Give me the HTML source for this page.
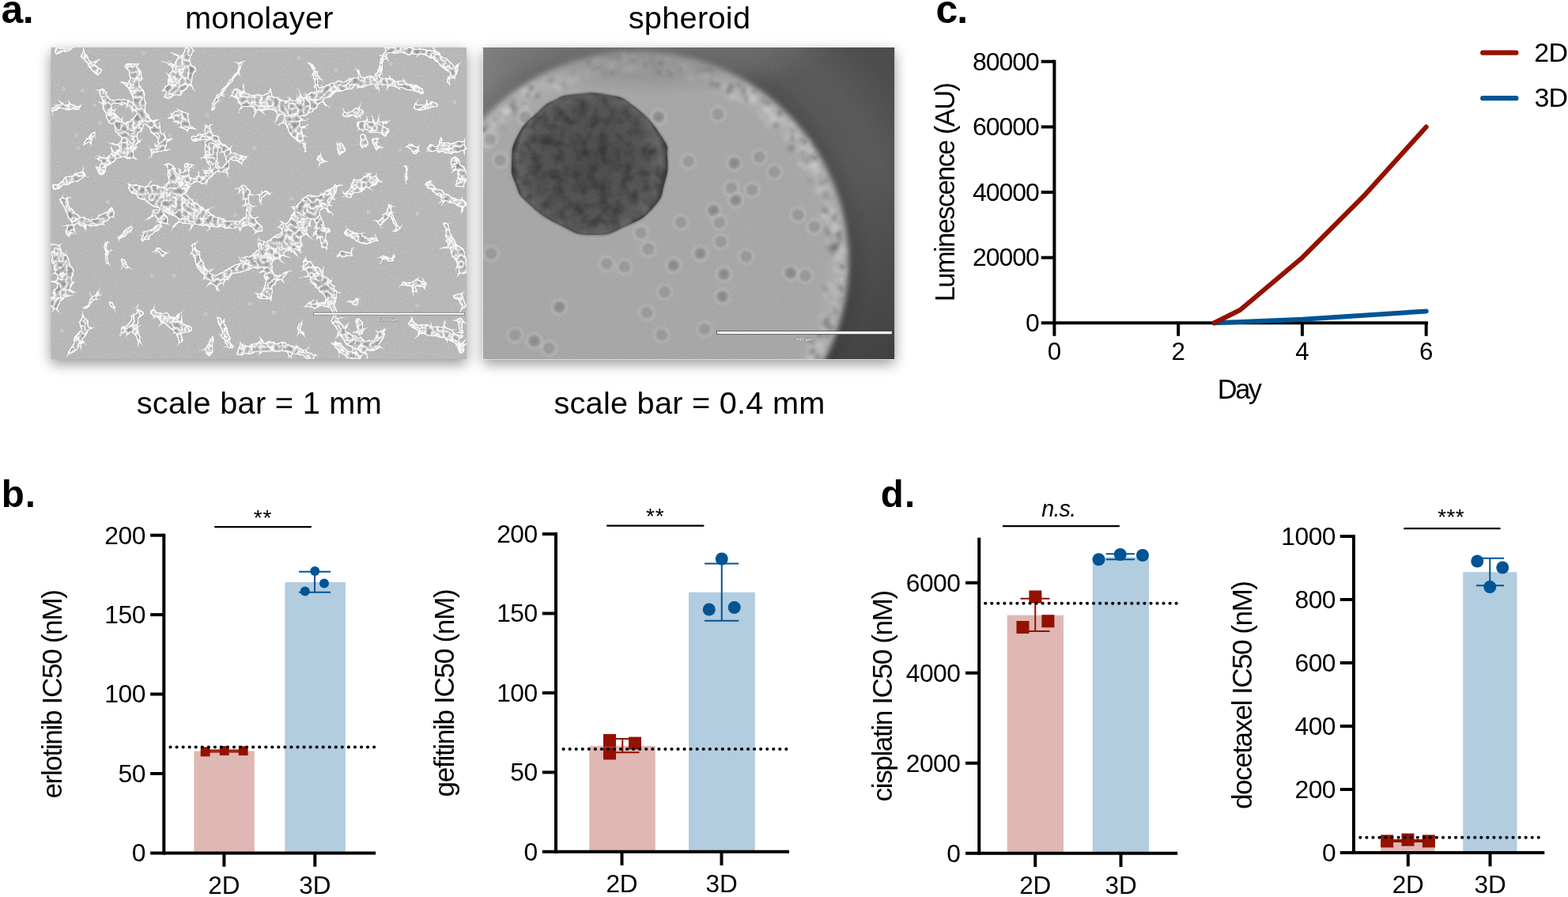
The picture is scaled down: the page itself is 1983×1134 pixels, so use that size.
<!DOCTYPE html>
<html lang="en">
<head>
<meta charset="utf-8">
<title>Figure: monolayer vs spheroid culture</title>
<style>
html,body{margin:0;padding:0;background:#fff;}
body{width:1983px;height:1134px;overflow:hidden;font-family:"Liberation Sans",sans-serif;}
svg{display:block;}
svg text{font-family:"Liberation Sans",sans-serif;fill:#000;}
</style>
</head>
<body>
<svg width="1983" height="1134" viewBox="0 0 1983 1134" role="img" aria-label="Monolayer versus spheroid culture: micrographs, growth curve and IC50 bar charts">
<defs>
<filter id="shadow" x="-15%" y="-15%" width="130%" height="135%">
<feGaussianBlur in="SourceAlpha" stdDeviation="8.5"/>
<feOffset dx="0" dy="6"/>
<feComponentTransfer><feFuncA type="linear" slope="0.42"/></feComponentTransfer>
</filter>
<clipPath id="cs"><rect x="611.0" y="60.0" width="520.2" height="394.0"/></clipPath>
<radialGradient id="gOut" gradientUnits="userSpaceOnUse" cx="806.7" cy="331.3" r="460">
<stop offset="0.575" stop-color="#4c4c4c"/>
<stop offset="0.64" stop-color="#585858"/>
<stop offset="0.72" stop-color="#5a5a5a"/>
<stop offset="0.84" stop-color="#4e4e4e"/>
<stop offset="1" stop-color="#484848"/>
</radialGradient>
<radialGradient id="gFog" gradientUnits="userSpaceOnUse" cx="0" cy="0" r="1" gradientTransform="translate(830 58) scale(230 62)">
<stop offset="0" stop-color="#7a7a7a" stop-opacity="0.6"/>
<stop offset="0.6" stop-color="#7a7a7a" stop-opacity="0.4"/>
<stop offset="1" stop-color="#7a7a7a" stop-opacity="0"/>
</radialGradient>
<linearGradient id="gTop" gradientUnits="userSpaceOnUse" x1="611.0" y1="40" x2="1053.17" y2="230">
<stop offset="0" stop-color="#fff" stop-opacity="0.25"/>
<stop offset="0.2" stop-color="#fff" stop-opacity="0.12"/>
<stop offset="0.62" stop-color="#fff" stop-opacity="0.05"/>
<stop offset="0.8" stop-color="#fff" stop-opacity="0"/>
</linearGradient>
<linearGradient id="gBot" gradientUnits="userSpaceOnUse" x1="1000" y1="300" x2="1131" y2="454">
<stop offset="0" stop-color="#000" stop-opacity="0"/>
<stop offset="1" stop-color="#000" stop-opacity="0.28"/>
</linearGradient>
<radialGradient id="gWell" gradientUnits="userSpaceOnUse" cx="806.7" cy="331.3" r="266.5">
<stop offset="0" stop-color="#a7a7a7"/>
<stop offset="0.8" stop-color="#a6a6a6"/>
<stop offset="0.9" stop-color="#a8a8a8"/>
<stop offset="0.955" stop-color="#b2b2b2"/>
<stop offset="1" stop-color="#aeaeae"/>
</radialGradient>
<linearGradient id="gWellL" gradientUnits="userSpaceOnUse" x1="611.0" y1="454" x2="811.0" y2="200">
<stop offset="0" stop-color="#fff" stop-opacity="0.04"/>
<stop offset="1" stop-color="#000" stop-opacity="0.05"/>
</linearGradient>
<radialGradient id="gSph" gradientUnits="userSpaceOnUse" cx="745" cy="207" r="98">
<stop offset="0" stop-color="#4e4e4e"/>
<stop offset="0.75" stop-color="#555555"/>
<stop offset="0.93" stop-color="#666666"/>
<stop offset="1" stop-color="#4a4a4a"/>
</radialGradient>
<filter id="b1"><feGaussianBlur stdDeviation="1.2"/></filter>
<filter id="b15"><feGaussianBlur stdDeviation="1.6"/></filter>
<filter id="b2"><feGaussianBlur stdDeviation="2.5"/></filter>
<filter id="b3"><feGaussianBlur stdDeviation="3.5"/></filter>
<filter id="sphTex" x="0" y="0" width="100%" height="100%">
<feTurbulence type="fractalNoise" baseFrequency="0.07" numOctaves="2" seed="4" result="n"/>
<feColorMatrix in="n" type="matrix" values="0 0 0 0 0  0 0 0 0 0  0 0 0 0 0  1.1 0 0 0 -0.42" result="a"/>
<feFlood flood-color="#000" result="f"/>
<feComposite in="f" in2="a" operator="in" result="dark"/>
<feComposite in="dark" in2="SourceAlpha" operator="in" result="dk"/>
<feMerge><feMergeNode in="SourceGraphic"/><feMergeNode in="dk"/></feMerge>
</filter>
<filter id="sgrain" x="0" y="0" width="100%" height="100%" color-interpolation-filters="sRGB">
<feTurbulence type="fractalNoise" baseFrequency="0.65" numOctaves="2" seed="9" result="n"/>
<feColorMatrix in="n" type="matrix" values="1 0 0 0 0  1 0 0 0 0  1 0 0 0 0  0 0 0 0 1" result="ng"/>
<feComposite in="SourceGraphic" in2="ng" operator="arithmetic" k1="0" k2="1" k3="0.07" k4="-0.035"/>
</filter>
<clipPath id="cm"><rect x="64.4" y="60.0" width="525.7" height="394.0"/></clipPath>
<filter id="cellf" filterUnits="userSpaceOnUse" x="54.400000000000006" y="50.0" width="545.7" height="414.0" color-interpolation-filters="sRGB">
<feTurbulence type="fractalNoise" baseFrequency="0.09" numOctaves="2" seed="3" result="t1"/>
<feDisplacementMap in="SourceGraphic" in2="t1" scale="8" xChannelSelector="R" yChannelSelector="G" result="d"/>
<feGaussianBlur in="d" stdDeviation="0.9" result="db"/>
<feComponentTransfer in="db" result="ds"><feFuncA type="linear" slope="6" intercept="-2.5"/></feComponentTransfer>
<feMorphology in="ds" operator="erode" radius="1.2" result="er0"/>
<feGaussianBlur in="er0" stdDeviation="0.6" result="er"/>
<feTurbulence type="turbulence" baseFrequency="0.13" numOctaves="2" seed="8" result="t2"/>
<feComponentTransfer in="t2" result="tex0">
<feFuncR type="table" tableValues="1 0.95 0.84 0.76 0.7 0.65 0.6 0.58 0.58 0.58 0.58"/>
<feFuncG type="table" tableValues="1 0.95 0.84 0.76 0.7 0.65 0.6 0.58 0.58 0.58 0.58"/>
<feFuncB type="table" tableValues="1 0.95 0.84 0.76 0.7 0.65 0.6 0.58 0.58 0.58 0.58"/>
<feFuncA type="linear" slope="0" intercept="1"/>
</feComponentTransfer>
<feColorMatrix in="tex0" type="matrix" values="1 0 0 0 0  1 0 0 0 0  1 0 0 0 0  0 0 0 0 1" result="tex"/>
<feComposite in="tex" in2="er" operator="in" result="inner"/>
<feMerge result="un"><feMergeNode in="ds"/><feMergeNode in="d"/></feMerge>
<feFlood flood-color="#fcfcfc"/>
<feComposite in2="un" operator="in" result="white"/>
<feMerge><feMergeNode in="white"/><feMergeNode in="inner"/></feMerge>
<feGaussianBlur stdDeviation="0.65"/>
</filter>
<filter id="mgrain" x="0" y="0" width="100%" height="100%" color-interpolation-filters="sRGB">
<feTurbulence type="fractalNoise" baseFrequency="0.45" numOctaves="2" seed="5" result="n"/>
<feColorMatrix in="n" type="matrix" values="1 0 0 0 0  1 0 0 0 0  1 0 0 0 0  0 0 0 0 1" result="ng"/>
<feComposite in="SourceGraphic" in2="ng" operator="arithmetic" k1="0" k2="1" k3="0.075" k4="-0.0375"/>
</filter>
</defs>
<rect x="611.0" y="60.0" width="520.2" height="394.0" fill="#000" filter="url(#shadow)"/>
<rect x="610.4" y="59.4" width="521.4000000000001" height="395.2" fill="#f4f4f4"/>
<g clip-path="url(#cs)"><g filter="url(#sgrain)">
<rect x="611.0" y="60.0" width="520.2" height="394.0" fill="url(#gOut)"/>
<rect x="611.0" y="60.0" width="520.2" height="394.0" fill="url(#gTop)"/>
<rect x="611.0" y="60.0" width="520.2" height="394.0" fill="url(#gBot)"/>
<circle cx="806.7" cy="331.3" r="266.5" fill="url(#gWell)" filter="url(#b3)"/>
<g filter="url(#b2)">
<circle cx="826.1" cy="82.3" r="4.0" fill="#666" opacity="0.53"/>
<circle cx="945.7" cy="114.4" r="4.6" fill="#d6d6d6" opacity="0.36"/>
<circle cx="1019.6" cy="181.0" r="5.7" fill="#d6d6d6" opacity="0.32"/>
<circle cx="967.5" cy="129.3" r="2.0" fill="#666" opacity="0.33"/>
<circle cx="609.5" cy="167.5" r="2.1" fill="#666" opacity="0.50"/>
<circle cx="1056.7" cy="313.4" r="3.4" fill="#666" opacity="0.60"/>
<circle cx="831.2" cy="76.8" r="5.7" fill="#d6d6d6" opacity="0.37"/>
<circle cx="1022.4" cy="195.4" r="2.5" fill="#666" opacity="0.33"/>
<circle cx="1044.5" cy="244.7" r="3.9" fill="#666" opacity="0.73"/>
<circle cx="1067.8" cy="317.2" r="4.0" fill="#d6d6d6" opacity="0.27"/>
<circle cx="1036.7" cy="437.1" r="3.7" fill="#d6d6d6" opacity="0.35"/>
<circle cx="662.7" cy="115.2" r="4.2" fill="#d6d6d6" opacity="0.47"/>
<circle cx="1057.3" cy="270.8" r="3.2" fill="#666" opacity="0.39"/>
<circle cx="1036.9" cy="213.1" r="3.4" fill="#666" opacity="0.49"/>
<circle cx="624.1" cy="152.2" r="5.6" fill="#d6d6d6" opacity="0.31"/>
<circle cx="1062.9" cy="352.6" r="4.4" fill="#d6d6d6" opacity="0.32"/>
<circle cx="624.1" cy="151.7" r="3.7" fill="#666" opacity="0.43"/>
<circle cx="941.3" cy="113.1" r="3.3" fill="#666" opacity="0.50"/>
<circle cx="1042.5" cy="418.4" r="4.8" fill="#d6d6d6" opacity="0.20"/>
<circle cx="1059.6" cy="290.1" r="3.9" fill="#d6d6d6" opacity="0.40"/>
<circle cx="624.5" cy="172.7" r="5.4" fill="#d6d6d6" opacity="0.35"/>
<circle cx="1046.1" cy="423.3" r="3.6" fill="#666" opacity="0.67"/>
<circle cx="951.5" cy="121.0" r="3.9" fill="#d6d6d6" opacity="0.17"/>
<circle cx="638.6" cy="146.6" r="5.4" fill="#d6d6d6" opacity="0.30"/>
<circle cx="1058.7" cy="382.8" r="2.0" fill="#666" opacity="0.50"/>
<circle cx="750.6" cy="88.2" r="2.3" fill="#666" opacity="0.70"/>
<circle cx="1031.7" cy="434.9" r="5.0" fill="#d6d6d6" opacity="0.19"/>
<circle cx="1049.7" cy="374.4" r="4.1" fill="#666" opacity="0.59"/>
<circle cx="852.4" cy="89.4" r="4.2" fill="#d6d6d6" opacity="0.17"/>
<circle cx="906.9" cy="106.6" r="5.5" fill="#d6d6d6" opacity="0.33"/>
<circle cx="1041.4" cy="271.2" r="4.3" fill="#d6d6d6" opacity="0.39"/>
<circle cx="1059.3" cy="339.6" r="5.2" fill="#d6d6d6" opacity="0.30"/>
<circle cx="971.3" cy="138.5" r="4.8" fill="#d6d6d6" opacity="0.17"/>
<circle cx="972.4" cy="156.8" r="5.4" fill="#d6d6d6" opacity="0.25"/>
<circle cx="1029.8" cy="220.0" r="4.5" fill="#d6d6d6" opacity="0.17"/>
<circle cx="1046.2" cy="227.9" r="3.3" fill="#666" opacity="0.40"/>
<circle cx="1014.4" cy="190.2" r="4.9" fill="#d6d6d6" opacity="0.22"/>
<circle cx="1008.3" cy="171.5" r="3.9" fill="#d6d6d6" opacity="0.32"/>
<circle cx="816.3" cy="88.7" r="4.2" fill="#d6d6d6" opacity="0.20"/>
<circle cx="806.6" cy="86.7" r="5.5" fill="#d6d6d6" opacity="0.25"/>
<circle cx="940.8" cy="114.6" r="2.3" fill="#666" opacity="0.68"/>
<circle cx="1053.0" cy="319.3" r="4.1" fill="#666" opacity="0.38"/>
<circle cx="825.0" cy="76.2" r="2.5" fill="#666" opacity="0.58"/>
<circle cx="864.6" cy="83.1" r="5.3" fill="#d6d6d6" opacity="0.27"/>
<circle cx="1067.1" cy="341.5" r="5.1" fill="#d6d6d6" opacity="0.23"/>
<circle cx="1059.2" cy="264.9" r="2.3" fill="#666" opacity="0.31"/>
<circle cx="1061.4" cy="301.1" r="2.3" fill="#666" opacity="0.58"/>
<circle cx="820.7" cy="83.4" r="4.9" fill="#d6d6d6" opacity="0.40"/>
<circle cx="1012.0" cy="176.2" r="3.0" fill="#666" opacity="0.30"/>
<circle cx="843.5" cy="87.6" r="2.4" fill="#666" opacity="0.46"/>
<circle cx="1013.4" cy="189.7" r="4.9" fill="#d6d6d6" opacity="0.25"/>
<circle cx="1041.3" cy="270.0" r="3.7" fill="#d6d6d6" opacity="0.34"/>
<circle cx="964.5" cy="147.3" r="4.3" fill="#d6d6d6" opacity="0.38"/>
<circle cx="1041.6" cy="274.3" r="4.5" fill="#d6d6d6" opacity="0.20"/>
<circle cx="1019.8" cy="211.9" r="4.9" fill="#d6d6d6" opacity="0.21"/>
<circle cx="1045.3" cy="364.5" r="4.2" fill="#666" opacity="0.66"/>
<circle cx="711.6" cy="108.3" r="3.9" fill="#666" opacity="0.34"/>
<circle cx="815.7" cy="81.5" r="3.7" fill="#666" opacity="0.31"/>
<circle cx="1062.0" cy="281.4" r="3.8" fill="#666" opacity="0.45"/>
<circle cx="1055.9" cy="262.3" r="2.3" fill="#666" opacity="0.63"/>
<circle cx="1052.9" cy="311.4" r="4.1" fill="#666" opacity="0.73"/>
<circle cx="893.9" cy="91.2" r="5.1" fill="#d6d6d6" opacity="0.29"/>
<circle cx="1055.9" cy="314.5" r="2.7" fill="#666" opacity="0.68"/>
<circle cx="1061.3" cy="367.2" r="5.4" fill="#d6d6d6" opacity="0.29"/>
<circle cx="933.9" cy="107.7" r="3.2" fill="#666" opacity="0.57"/>
<circle cx="883.8" cy="90.3" r="5.3" fill="#d6d6d6" opacity="0.28"/>
<circle cx="1017.9" cy="179.4" r="3.2" fill="#666" opacity="0.73"/>
<circle cx="1056.2" cy="388.0" r="3.0" fill="#666" opacity="0.50"/>
<circle cx="1045.8" cy="290.5" r="3.0" fill="#666" opacity="0.39"/>
<circle cx="959.1" cy="143.2" r="3.8" fill="#d6d6d6" opacity="0.16"/>
<circle cx="611.6" cy="164.5" r="3.5" fill="#666" opacity="0.46"/>
<circle cx="971.3" cy="131.0" r="3.6" fill="#666" opacity="0.53"/>
<circle cx="649.4" cy="127.6" r="3.2" fill="#666" opacity="0.47"/>
<circle cx="790.6" cy="81.4" r="2.4" fill="#666" opacity="0.58"/>
<circle cx="978.5" cy="149.1" r="5.4" fill="#d6d6d6" opacity="0.37"/>
<circle cx="644.0" cy="146.9" r="5.3" fill="#d6d6d6" opacity="0.31"/>
<circle cx="707.3" cy="110.5" r="4.0" fill="#d6d6d6" opacity="0.51"/>
<circle cx="1032.2" cy="209.9" r="3.7" fill="#d6d6d6" opacity="0.26"/>
<circle cx="1056.7" cy="264.0" r="4.4" fill="#d6d6d6" opacity="0.15"/>
<circle cx="622.9" cy="166.1" r="5.5" fill="#d6d6d6" opacity="0.24"/>
<circle cx="872.7" cy="94.8" r="4.6" fill="#d6d6d6" opacity="0.20"/>
<circle cx="881.7" cy="93.3" r="2.3" fill="#666" opacity="0.39"/>
<circle cx="1046.6" cy="312.1" r="4.0" fill="#666" opacity="0.33"/>
<circle cx="1045.2" cy="411.9" r="3.7" fill="#666" opacity="0.51"/>
<circle cx="883.0" cy="90.6" r="3.3" fill="#666" opacity="0.62"/>
<circle cx="1063.9" cy="314.6" r="4.5" fill="#d6d6d6" opacity="0.26"/>
<circle cx="611.2" cy="162.9" r="3.1" fill="#666" opacity="0.70"/>
<circle cx="1047.5" cy="277.5" r="5.4" fill="#d6d6d6" opacity="0.26"/>
<circle cx="951.3" cy="126.3" r="5.7" fill="#d6d6d6" opacity="0.22"/>
<circle cx="1048.6" cy="375.2" r="5.2" fill="#d6d6d6" opacity="0.26"/>
<circle cx="1047.8" cy="361.8" r="5.0" fill="#d6d6d6" opacity="0.35"/>
<circle cx="784.0" cy="86.0" r="2.2" fill="#666" opacity="0.51"/>
<circle cx="977.3" cy="150.7" r="4.0" fill="#d6d6d6" opacity="0.32"/>
<circle cx="724.2" cy="97.8" r="3.3" fill="#666" opacity="0.48"/>
<circle cx="1024.1" cy="450.7" r="5.0" fill="#d6d6d6" opacity="0.41"/>
<circle cx="1037.4" cy="220.1" r="2.9" fill="#666" opacity="0.39"/>
<circle cx="754.7" cy="77.1" r="4.1" fill="#d6d6d6" opacity="0.39"/>
<circle cx="873.3" cy="99.5" r="4.7" fill="#d6d6d6" opacity="0.32"/>
<circle cx="1061.9" cy="281.8" r="4.8" fill="#d6d6d6" opacity="0.16"/>
<circle cx="1056.9" cy="394.7" r="3.0" fill="#666" opacity="0.52"/>
<circle cx="965.5" cy="125.1" r="4.1" fill="#666" opacity="0.54"/>
<circle cx="951.7" cy="122.9" r="4.1" fill="#d6d6d6" opacity="0.30"/>
<circle cx="680.5" cy="119.6" r="2.7" fill="#666" opacity="0.41"/>
<circle cx="1040.8" cy="234.6" r="5.5" fill="#d6d6d6" opacity="0.16"/>
<circle cx="1023.1" cy="439.0" r="3.7" fill="#d6d6d6" opacity="0.26"/>
<circle cx="847.4" cy="93.7" r="2.5" fill="#666" opacity="0.72"/>
<circle cx="1026.6" cy="208.9" r="5.7" fill="#d6d6d6" opacity="0.31"/>
<circle cx="829.8" cy="75.1" r="2.1" fill="#666" opacity="0.36"/>
<circle cx="817.4" cy="84.1" r="3.0" fill="#666" opacity="0.56"/>
<circle cx="796.4" cy="86.4" r="4.7" fill="#d6d6d6" opacity="0.40"/>
<circle cx="1035.9" cy="216.1" r="3.8" fill="#d6d6d6" opacity="0.36"/>
<circle cx="971.6" cy="138.2" r="4.1" fill="#d6d6d6" opacity="0.30"/>
<circle cx="943.8" cy="124.4" r="3.7" fill="#666" opacity="0.41"/>
<circle cx="1027.0" cy="432.0" r="3.9" fill="#666" opacity="0.33"/>
<circle cx="667.6" cy="120.5" r="3.4" fill="#666" opacity="0.54"/>
<circle cx="1001.5" cy="174.7" r="3.4" fill="#666" opacity="0.52"/>
<circle cx="623.7" cy="154.7" r="5.1" fill="#d6d6d6" opacity="0.23"/>
<circle cx="965.2" cy="144.0" r="2.5" fill="#666" opacity="0.42"/>
<circle cx="1055.9" cy="283.3" r="4.9" fill="#d6d6d6" opacity="0.24"/>
<circle cx="908.8" cy="107.7" r="4.0" fill="#666" opacity="0.47"/>
<circle cx="923.9" cy="109.0" r="3.5" fill="#666" opacity="0.65"/>
<circle cx="1000.5" cy="158.3" r="4.2" fill="#d6d6d6" opacity="0.33"/>
<circle cx="673.8" cy="109.6" r="4.3" fill="#d6d6d6" opacity="0.33"/>
<circle cx="923.6" cy="119.2" r="5.6" fill="#d6d6d6" opacity="0.26"/>
<circle cx="1055.9" cy="276.9" r="2.7" fill="#666" opacity="0.72"/>
<circle cx="1061.2" cy="361.7" r="2.8" fill="#666" opacity="0.46"/>
<circle cx="774.1" cy="80.0" r="3.9" fill="#d6d6d6" opacity="0.36"/>
<circle cx="901.5" cy="106.5" r="3.2" fill="#666" opacity="0.64"/>
<circle cx="1061.7" cy="348.8" r="2.0" fill="#666" opacity="0.54"/>
<circle cx="921.7" cy="119.3" r="4.9" fill="#d6d6d6" opacity="0.17"/>
<circle cx="907.0" cy="107.8" r="2.2" fill="#666" opacity="0.63"/>
<circle cx="1064.1" cy="366.2" r="3.4" fill="#666" opacity="0.64"/>
<circle cx="989.6" cy="151.7" r="4.0" fill="#d6d6d6" opacity="0.29"/>
<circle cx="1044.1" cy="243.3" r="4.2" fill="#d6d6d6" opacity="0.33"/>
<circle cx="863.3" cy="87.6" r="5.1" fill="#d6d6d6" opacity="0.39"/>
<circle cx="788.5" cy="87.8" r="5.0" fill="#d6d6d6" opacity="0.36"/>
<circle cx="1048.3" cy="306.4" r="5.6" fill="#d6d6d6" opacity="0.29"/>
<circle cx="1014.8" cy="202.6" r="2.9" fill="#666" opacity="0.37"/>
<circle cx="1024.4" cy="228.7" r="2.8" fill="#666" opacity="0.39"/>
<circle cx="801.0" cy="76.0" r="4.1" fill="#666" opacity="0.44"/>
<circle cx="1051.8" cy="251.7" r="2.1" fill="#666" opacity="0.56"/>
<circle cx="1063.6" cy="376.0" r="2.2" fill="#666" opacity="0.40"/>
<circle cx="645.5" cy="144.9" r="3.3" fill="#666" opacity="0.38"/>
<circle cx="672.7" cy="111.0" r="3.7" fill="#666" opacity="0.55"/>
<circle cx="1054.8" cy="290.3" r="4.1" fill="#d6d6d6" opacity="0.39"/>
<circle cx="727.1" cy="94.3" r="4.1" fill="#666" opacity="0.40"/>
<circle cx="1054.0" cy="275.7" r="3.2" fill="#666" opacity="0.42"/>
<circle cx="1027.9" cy="442.8" r="2.5" fill="#666" opacity="0.51"/>
<circle cx="754.1" cy="92.3" r="5.1" fill="#d6d6d6" opacity="0.26"/>
<circle cx="664.3" cy="134.1" r="4.6" fill="#d6d6d6" opacity="0.55"/>
<circle cx="665.5" cy="124.7" r="3.8" fill="#d6d6d6" opacity="0.20"/>
<circle cx="1047.8" cy="295.3" r="3.8" fill="#666" opacity="0.42"/>
<circle cx="1030.5" cy="200.0" r="3.1" fill="#666" opacity="0.73"/>
<circle cx="937.5" cy="125.9" r="4.2" fill="#d6d6d6" opacity="0.26"/>
<circle cx="1061.2" cy="382.7" r="3.8" fill="#666" opacity="0.54"/>
<circle cx="894.0" cy="88.3" r="3.8" fill="#666" opacity="0.44"/>
<circle cx="839.1" cy="87.0" r="4.3" fill="#d6d6d6" opacity="0.18"/>
<circle cx="773.0" cy="81.8" r="5.6" fill="#d6d6d6" opacity="0.32"/>
<circle cx="1024.8" cy="196.3" r="3.2" fill="#666" opacity="0.30"/>
<circle cx="1024.6" cy="442.6" r="4.0" fill="#d6d6d6" opacity="0.23"/>
<circle cx="756.9" cy="86.2" r="2.7" fill="#666" opacity="0.48"/>
<circle cx="1000.6" cy="164.0" r="3.9" fill="#d6d6d6" opacity="0.24"/>
<circle cx="1045.1" cy="405.6" r="3.6" fill="#666" opacity="0.67"/>
<circle cx="1025.0" cy="194.3" r="4.4" fill="#d6d6d6" opacity="0.31"/>
<circle cx="783.8" cy="72.3" r="4.0" fill="#666" opacity="0.53"/>
<circle cx="980.7" cy="158.2" r="3.8" fill="#666" opacity="0.45"/>
<circle cx="788.7" cy="70.7" r="4.4" fill="#d6d6d6" opacity="0.41"/>
<circle cx="1045.8" cy="266.7" r="3.3" fill="#666" opacity="0.45"/>
<circle cx="727.9" cy="96.3" r="2.2" fill="#666" opacity="0.53"/>
<circle cx="1042.2" cy="266.7" r="3.3" fill="#666" opacity="0.64"/>
<circle cx="1053.9" cy="368.4" r="2.8" fill="#666" opacity="0.36"/>
<circle cx="1013.0" cy="207.2" r="4.6" fill="#d6d6d6" opacity="0.37"/>
<circle cx="624.8" cy="172.2" r="3.4" fill="#666" opacity="0.34"/>
<circle cx="650.0" cy="137.3" r="3.5" fill="#666" opacity="0.72"/>
<circle cx="743.3" cy="87.6" r="3.8" fill="#d6d6d6" opacity="0.25"/>
<circle cx="1053.9" cy="369.4" r="4.7" fill="#d6d6d6" opacity="0.22"/>
<circle cx="1043.8" cy="372.5" r="5.3" fill="#d6d6d6" opacity="0.18"/>
<circle cx="1059.8" cy="296.6" r="4.0" fill="#666" opacity="0.56"/>
<circle cx="1062.6" cy="302.0" r="3.2" fill="#666" opacity="0.31"/>
<circle cx="615.9" cy="184.4" r="5.6" fill="#d6d6d6" opacity="0.31"/>
<circle cx="995.6" cy="173.7" r="4.3" fill="#d6d6d6" opacity="0.36"/>
<circle cx="841.4" cy="75.1" r="4.4" fill="#d6d6d6" opacity="0.20"/>
<circle cx="888.0" cy="88.6" r="3.2" fill="#666" opacity="0.59"/>
<circle cx="952.1" cy="125.9" r="4.4" fill="#d6d6d6" opacity="0.33"/>
<circle cx="1035.0" cy="240.4" r="4.6" fill="#d6d6d6" opacity="0.37"/>
<circle cx="1059.5" cy="324.8" r="4.5" fill="#d6d6d6" opacity="0.39"/>
<circle cx="891.6" cy="95.7" r="4.5" fill="#d6d6d6" opacity="0.23"/>
<circle cx="1050.5" cy="365.3" r="4.8" fill="#d6d6d6" opacity="0.23"/>
<circle cx="951.8" cy="115.5" r="2.3" fill="#666" opacity="0.53"/>
<circle cx="774.2" cy="72.9" r="3.5" fill="#666" opacity="0.41"/>
<circle cx="695.5" cy="103.8" r="2.5" fill="#666" opacity="0.71"/>
<circle cx="1036.5" cy="423.2" r="3.9" fill="#666" opacity="0.66"/>
<circle cx="636.9" cy="153.6" r="4.7" fill="#d6d6d6" opacity="0.23"/>
<circle cx="1057.3" cy="266.2" r="4.7" fill="#d6d6d6" opacity="0.15"/>
<circle cx="645.9" cy="133.1" r="2.7" fill="#666" opacity="0.70"/>
<circle cx="1056.2" cy="288.5" r="4.3" fill="#d6d6d6" opacity="0.16"/>
<circle cx="697.8" cy="105.1" r="5.6" fill="#d6d6d6" opacity="0.37"/>
<circle cx="620.3" cy="156.8" r="5.5" fill="#d6d6d6" opacity="0.27"/>
<circle cx="1059.8" cy="309.0" r="3.0" fill="#666" opacity="0.70"/>
<circle cx="1034.2" cy="451.4" r="3.4" fill="#666" opacity="0.70"/>
<circle cx="1030.8" cy="209.8" r="5.5" fill="#d6d6d6" opacity="0.34"/>
<circle cx="1049.3" cy="400.0" r="2.2" fill="#666" opacity="0.44"/>
<circle cx="1025.8" cy="196.3" r="2.4" fill="#666" opacity="0.60"/>
<circle cx="1051.8" cy="265.9" r="5.0" fill="#d6d6d6" opacity="0.30"/>
<circle cx="635.3" cy="142.2" r="5.5" fill="#d6d6d6" opacity="0.30"/>
<circle cx="985.8" cy="143.4" r="4.2" fill="#666" opacity="0.54"/>
<circle cx="899.4" cy="87.8" r="3.3" fill="#666" opacity="0.41"/>
<circle cx="1060.4" cy="276.0" r="4.1" fill="#d6d6d6" opacity="0.21"/>
<circle cx="675.3" cy="118.7" r="3.9" fill="#d6d6d6" opacity="0.55"/>
<circle cx="1039.5" cy="231.2" r="4.0" fill="#666" opacity="0.38"/>
<circle cx="915.8" cy="108.6" r="4.3" fill="#d6d6d6" opacity="0.36"/>
<circle cx="883.8" cy="92.6" r="5.4" fill="#d6d6d6" opacity="0.29"/>
<circle cx="1051.0" cy="413.9" r="3.7" fill="#666" opacity="0.57"/>
<circle cx="641.7" cy="140.5" r="5.2" fill="#d6d6d6" opacity="0.48"/>
<circle cx="642.8" cy="140.9" r="4.0" fill="#d6d6d6" opacity="0.37"/>
<circle cx="1021.1" cy="203.7" r="3.9" fill="#666" opacity="0.37"/>
<circle cx="810.0" cy="79.1" r="4.1" fill="#d6d6d6" opacity="0.17"/>
<circle cx="1052.9" cy="372.3" r="4.7" fill="#d6d6d6" opacity="0.21"/>
<circle cx="966.7" cy="138.6" r="4.1" fill="#d6d6d6" opacity="0.17"/>
<circle cx="1061.7" cy="292.4" r="2.6" fill="#666" opacity="0.61"/>
<circle cx="1050.1" cy="303.6" r="2.1" fill="#666" opacity="0.46"/>
<circle cx="636.7" cy="160.3" r="2.1" fill="#666" opacity="0.64"/>
<circle cx="1039.2" cy="444.3" r="4.5" fill="#d6d6d6" opacity="0.16"/>
<circle cx="651.4" cy="144.6" r="2.3" fill="#666" opacity="0.43"/>
<circle cx="800.5" cy="71.5" r="3.6" fill="#d6d6d6" opacity="0.35"/>
<circle cx="1035.9" cy="215.9" r="4.1" fill="#d6d6d6" opacity="0.21"/>
<circle cx="833.6" cy="90.9" r="2.8" fill="#666" opacity="0.74"/>
<circle cx="965.6" cy="124.7" r="4.4" fill="#d6d6d6" opacity="0.17"/>
<circle cx="729.0" cy="96.9" r="5.4" fill="#d6d6d6" opacity="0.51"/>
<circle cx="835.8" cy="79.7" r="3.9" fill="#666" opacity="0.65"/>
<circle cx="626.9" cy="151.6" r="2.4" fill="#666" opacity="0.37"/>
<circle cx="617.3" cy="157.6" r="3.0" fill="#666" opacity="0.50"/>
<circle cx="1026.2" cy="445.1" r="3.9" fill="#666" opacity="0.47"/>
<circle cx="743.8" cy="83.4" r="2.0" fill="#666" opacity="0.42"/>
<circle cx="773.2" cy="91.5" r="3.6" fill="#666" opacity="0.46"/>
<circle cx="743.6" cy="94.1" r="5.1" fill="#d6d6d6" opacity="0.21"/>
<circle cx="708.7" cy="97.6" r="3.7" fill="#d6d6d6" opacity="0.31"/>
<circle cx="1043.5" cy="249.4" r="2.1" fill="#666" opacity="0.41"/>
<circle cx="953.8" cy="115.9" r="2.7" fill="#666" opacity="0.54"/>
<circle cx="663.2" cy="131.1" r="3.5" fill="#666" opacity="0.39"/>
<circle cx="678.0" cy="121.0" r="2.9" fill="#666" opacity="0.69"/>
<circle cx="633.2" cy="143.9" r="2.8" fill="#666" opacity="0.32"/>
<circle cx="922.1" cy="115.7" r="4.1" fill="#666" opacity="0.60"/>
<circle cx="1058.1" cy="384.3" r="5.0" fill="#d6d6d6" opacity="0.40"/>
<circle cx="1063.2" cy="337.2" r="3.4" fill="#666" opacity="0.49"/>
<circle cx="770.2" cy="73.6" r="2.8" fill="#666" opacity="0.52"/>
<circle cx="671.5" cy="111.4" r="2.9" fill="#666" opacity="0.38"/>
<circle cx="999.9" cy="162.7" r="2.2" fill="#666" opacity="0.49"/>
<circle cx="1014.9" cy="193.2" r="3.5" fill="#666" opacity="0.48"/>
<circle cx="744.0" cy="78.8" r="2.9" fill="#666" opacity="0.52"/>
<circle cx="941.3" cy="118.7" r="2.7" fill="#666" opacity="0.31"/>
<circle cx="733.6" cy="99.8" r="3.2" fill="#666" opacity="0.60"/>
<circle cx="610.7" cy="173.5" r="4.9" fill="#d6d6d6" opacity="0.33"/>
<circle cx="928.7" cy="122.6" r="5.2" fill="#d6d6d6" opacity="0.31"/>
<circle cx="788.2" cy="79.2" r="4.1" fill="#d6d6d6" opacity="0.38"/>
<circle cx="763.5" cy="92.8" r="2.1" fill="#666" opacity="0.53"/>
<circle cx="697.1" cy="102.2" r="4.1" fill="#666" opacity="0.39"/>
<circle cx="640.4" cy="148.4" r="2.5" fill="#666" opacity="0.54"/>
<circle cx="772.1" cy="77.2" r="4.6" fill="#d6d6d6" opacity="0.29"/>
<circle cx="968.5" cy="141.0" r="5.3" fill="#d6d6d6" opacity="0.24"/>
<circle cx="733.2" cy="99.8" r="4.2" fill="#d6d6d6" opacity="0.44"/>
<circle cx="1000.3" cy="187.3" r="3.8" fill="#666" opacity="0.58"/>
<circle cx="860.5" cy="87.5" r="2.8" fill="#666" opacity="0.64"/>
<circle cx="900.7" cy="92.6" r="2.5" fill="#666" opacity="0.38"/>
<circle cx="883.5" cy="84.1" r="2.1" fill="#666" opacity="0.35"/>
<circle cx="1024.4" cy="190.8" r="4.5" fill="#d6d6d6" opacity="0.28"/>
<circle cx="1067.0" cy="338.7" r="2.6" fill="#666" opacity="0.66"/>
<circle cx="772.0" cy="87.3" r="4.1" fill="#d6d6d6" opacity="0.24"/>
<circle cx="721.5" cy="101.0" r="5.4" fill="#d6d6d6" opacity="0.40"/>
<circle cx="797.3" cy="84.8" r="4.9" fill="#d6d6d6" opacity="0.36"/>
<circle cx="1002.6" cy="165.5" r="2.4" fill="#666" opacity="0.56"/>
<circle cx="1037.9" cy="399.7" r="3.8" fill="#d6d6d6" opacity="0.26"/>
<circle cx="975.6" cy="142.7" r="5.6" fill="#d6d6d6" opacity="0.16"/>
</g>
<rect x="611.0" y="60.0" width="520.2" height="80" fill="url(#gFog)"/>
<g filter="url(#b15)">
<circle cx="833.0" cy="148.1" r="9.6" fill="none" stroke="#cacaca" stroke-width="2.4" opacity="0.4"/>
<circle cx="833.0" cy="148.1" r="4.6" fill="none" stroke="#787878" stroke-width="5" opacity="0.5"/>
<circle cx="833.0" cy="148.1" r="2.4" fill="#6c6c6c" opacity="0.55"/>
<circle cx="908.0" cy="144.3" r="9.6" fill="none" stroke="#cacaca" stroke-width="2.4" opacity="0.4"/>
<circle cx="908.0" cy="144.3" r="4.6" fill="none" stroke="#787878" stroke-width="5" opacity="0.3"/>
<circle cx="908.0" cy="144.3" r="2.4" fill="#8e8e8e" opacity="0.4"/>
<circle cx="870.5" cy="204.3" r="9.6" fill="none" stroke="#cacaca" stroke-width="2.4" opacity="0.4"/>
<circle cx="870.5" cy="204.3" r="4.6" fill="none" stroke="#787878" stroke-width="5" opacity="0.3"/>
<circle cx="870.5" cy="204.3" r="2.4" fill="#8e8e8e" opacity="0.4"/>
<circle cx="928.6" cy="206.2" r="9.6" fill="none" stroke="#cacaca" stroke-width="2.4" opacity="0.4"/>
<circle cx="928.6" cy="206.2" r="4.6" fill="none" stroke="#787878" stroke-width="5" opacity="0.5"/>
<circle cx="928.6" cy="206.2" r="2.4" fill="#6c6c6c" opacity="0.55"/>
<circle cx="924.8" cy="238.0" r="9.6" fill="none" stroke="#cacaca" stroke-width="2.4" opacity="0.4"/>
<circle cx="924.8" cy="238.0" r="4.6" fill="none" stroke="#787878" stroke-width="5" opacity="0.3"/>
<circle cx="924.8" cy="238.0" r="2.4" fill="#8e8e8e" opacity="0.4"/>
<circle cx="951.1" cy="239.9" r="9.6" fill="none" stroke="#cacaca" stroke-width="2.4" opacity="0.4"/>
<circle cx="951.1" cy="239.9" r="4.6" fill="none" stroke="#787878" stroke-width="5" opacity="0.3"/>
<circle cx="951.1" cy="239.9" r="2.4" fill="#8e8e8e" opacity="0.4"/>
<circle cx="979.2" cy="217.4" r="9.6" fill="none" stroke="#cacaca" stroke-width="2.4" opacity="0.4"/>
<circle cx="979.2" cy="217.4" r="4.6" fill="none" stroke="#787878" stroke-width="5" opacity="0.3"/>
<circle cx="979.2" cy="217.4" r="2.4" fill="#8e8e8e" opacity="0.4"/>
<circle cx="930.5" cy="253.0" r="9.6" fill="none" stroke="#cacaca" stroke-width="2.4" opacity="0.4"/>
<circle cx="930.5" cy="253.0" r="4.6" fill="none" stroke="#787878" stroke-width="5" opacity="0.5"/>
<circle cx="930.5" cy="253.0" r="2.4" fill="#6c6c6c" opacity="0.55"/>
<circle cx="902.3" cy="266.1" r="9.6" fill="none" stroke="#cacaca" stroke-width="2.4" opacity="0.4"/>
<circle cx="902.3" cy="266.1" r="4.6" fill="none" stroke="#787878" stroke-width="5" opacity="0.5"/>
<circle cx="902.3" cy="266.1" r="2.4" fill="#6c6c6c" opacity="0.55"/>
<circle cx="909.8" cy="281.1" r="9.6" fill="none" stroke="#cacaca" stroke-width="2.4" opacity="0.4"/>
<circle cx="909.8" cy="281.1" r="4.6" fill="none" stroke="#787878" stroke-width="5" opacity="0.3"/>
<circle cx="909.8" cy="281.1" r="2.4" fill="#8e8e8e" opacity="0.4"/>
<circle cx="810.5" cy="294.3" r="9.6" fill="none" stroke="#cacaca" stroke-width="2.4" opacity="0.4"/>
<circle cx="810.5" cy="294.3" r="4.6" fill="none" stroke="#787878" stroke-width="5" opacity="0.3"/>
<circle cx="810.5" cy="294.3" r="2.4" fill="#8e8e8e" opacity="0.4"/>
<circle cx="819.9" cy="314.9" r="9.6" fill="none" stroke="#cacaca" stroke-width="2.4" opacity="0.4"/>
<circle cx="819.9" cy="314.9" r="4.6" fill="none" stroke="#787878" stroke-width="5" opacity="0.3"/>
<circle cx="819.9" cy="314.9" r="2.4" fill="#8e8e8e" opacity="0.4"/>
<circle cx="911.7" cy="305.5" r="9.6" fill="none" stroke="#cacaca" stroke-width="2.4" opacity="0.4"/>
<circle cx="911.7" cy="305.5" r="4.6" fill="none" stroke="#787878" stroke-width="5" opacity="0.3"/>
<circle cx="911.7" cy="305.5" r="2.4" fill="#8e8e8e" opacity="0.4"/>
<circle cx="885.5" cy="320.5" r="9.6" fill="none" stroke="#cacaca" stroke-width="2.4" opacity="0.4"/>
<circle cx="885.5" cy="320.5" r="4.6" fill="none" stroke="#787878" stroke-width="5" opacity="0.5"/>
<circle cx="885.5" cy="320.5" r="2.4" fill="#6c6c6c" opacity="0.55"/>
<circle cx="943.6" cy="324.2" r="9.6" fill="none" stroke="#cacaca" stroke-width="2.4" opacity="0.4"/>
<circle cx="943.6" cy="324.2" r="4.6" fill="none" stroke="#787878" stroke-width="5" opacity="0.3"/>
<circle cx="943.6" cy="324.2" r="2.4" fill="#8e8e8e" opacity="0.4"/>
<circle cx="767.4" cy="333.6" r="9.6" fill="none" stroke="#cacaca" stroke-width="2.4" opacity="0.4"/>
<circle cx="767.4" cy="333.6" r="4.6" fill="none" stroke="#787878" stroke-width="5" opacity="0.3"/>
<circle cx="767.4" cy="333.6" r="2.4" fill="#8e8e8e" opacity="0.4"/>
<circle cx="789.9" cy="337.4" r="9.6" fill="none" stroke="#cacaca" stroke-width="2.4" opacity="0.4"/>
<circle cx="789.9" cy="337.4" r="4.6" fill="none" stroke="#787878" stroke-width="5" opacity="0.3"/>
<circle cx="789.9" cy="337.4" r="2.4" fill="#8e8e8e" opacity="0.4"/>
<circle cx="851.7" cy="335.5" r="9.6" fill="none" stroke="#cacaca" stroke-width="2.4" opacity="0.4"/>
<circle cx="851.7" cy="335.5" r="4.6" fill="none" stroke="#787878" stroke-width="5" opacity="0.5"/>
<circle cx="851.7" cy="335.5" r="2.4" fill="#6c6c6c" opacity="0.55"/>
<circle cx="915.5" cy="346.7" r="9.6" fill="none" stroke="#cacaca" stroke-width="2.4" opacity="0.4"/>
<circle cx="915.5" cy="346.7" r="4.6" fill="none" stroke="#787878" stroke-width="5" opacity="0.5"/>
<circle cx="915.5" cy="346.7" r="2.4" fill="#6c6c6c" opacity="0.55"/>
<circle cx="999.8" cy="344.9" r="9.6" fill="none" stroke="#cacaca" stroke-width="2.4" opacity="0.4"/>
<circle cx="999.8" cy="344.9" r="4.6" fill="none" stroke="#787878" stroke-width="5" opacity="0.5"/>
<circle cx="999.8" cy="344.9" r="2.4" fill="#6c6c6c" opacity="0.55"/>
<circle cx="1018.5" cy="348.6" r="9.6" fill="none" stroke="#cacaca" stroke-width="2.4" opacity="0.4"/>
<circle cx="1018.5" cy="348.6" r="4.6" fill="none" stroke="#787878" stroke-width="5" opacity="0.3"/>
<circle cx="1018.5" cy="348.6" r="2.4" fill="#8e8e8e" opacity="0.4"/>
<circle cx="840.5" cy="369.2" r="9.6" fill="none" stroke="#cacaca" stroke-width="2.4" opacity="0.4"/>
<circle cx="840.5" cy="369.2" r="4.6" fill="none" stroke="#787878" stroke-width="5" opacity="0.3"/>
<circle cx="840.5" cy="369.2" r="2.4" fill="#8e8e8e" opacity="0.4"/>
<circle cx="913.6" cy="374.8" r="9.6" fill="none" stroke="#cacaca" stroke-width="2.4" opacity="0.4"/>
<circle cx="913.6" cy="374.8" r="4.6" fill="none" stroke="#787878" stroke-width="5" opacity="0.5"/>
<circle cx="913.6" cy="374.8" r="2.4" fill="#6c6c6c" opacity="0.55"/>
<circle cx="707.4" cy="388.0" r="9.6" fill="none" stroke="#cacaca" stroke-width="2.4" opacity="0.4"/>
<circle cx="707.4" cy="388.0" r="4.6" fill="none" stroke="#787878" stroke-width="5" opacity="0.5"/>
<circle cx="707.4" cy="388.0" r="2.4" fill="#6c6c6c" opacity="0.55"/>
<circle cx="651.2" cy="423.6" r="9.6" fill="none" stroke="#cacaca" stroke-width="2.4" opacity="0.4"/>
<circle cx="651.2" cy="423.6" r="4.6" fill="none" stroke="#787878" stroke-width="5" opacity="0.3"/>
<circle cx="651.2" cy="423.6" r="2.4" fill="#8e8e8e" opacity="0.4"/>
<circle cx="675.6" cy="431.1" r="9.6" fill="none" stroke="#cacaca" stroke-width="2.4" opacity="0.4"/>
<circle cx="675.6" cy="431.1" r="4.6" fill="none" stroke="#787878" stroke-width="5" opacity="0.5"/>
<circle cx="675.6" cy="431.1" r="2.4" fill="#6c6c6c" opacity="0.55"/>
<circle cx="694.3" cy="440.4" r="9.6" fill="none" stroke="#cacaca" stroke-width="2.4" opacity="0.4"/>
<circle cx="694.3" cy="440.4" r="4.6" fill="none" stroke="#787878" stroke-width="5" opacity="0.3"/>
<circle cx="694.3" cy="440.4" r="2.4" fill="#8e8e8e" opacity="0.4"/>
<circle cx="836.8" cy="423.6" r="9.6" fill="none" stroke="#cacaca" stroke-width="2.4" opacity="0.4"/>
<circle cx="836.8" cy="423.6" r="4.6" fill="none" stroke="#787878" stroke-width="5" opacity="0.3"/>
<circle cx="836.8" cy="423.6" r="2.4" fill="#8e8e8e" opacity="0.4"/>
<circle cx="891.1" cy="416.1" r="9.6" fill="none" stroke="#cacaca" stroke-width="2.4" opacity="0.4"/>
<circle cx="891.1" cy="416.1" r="4.6" fill="none" stroke="#787878" stroke-width="5" opacity="0.3"/>
<circle cx="891.1" cy="416.1" r="2.4" fill="#8e8e8e" opacity="0.4"/>
<circle cx="621.2" cy="320.5" r="9.6" fill="none" stroke="#cacaca" stroke-width="2.4" opacity="0.4"/>
<circle cx="621.2" cy="320.5" r="4.6" fill="none" stroke="#787878" stroke-width="5" opacity="0.3"/>
<circle cx="621.2" cy="320.5" r="2.4" fill="#8e8e8e" opacity="0.4"/>
<circle cx="1009.2" cy="271.8" r="9.6" fill="none" stroke="#cacaca" stroke-width="2.4" opacity="0.4"/>
<circle cx="1009.2" cy="271.8" r="4.6" fill="none" stroke="#787878" stroke-width="5" opacity="0.3"/>
<circle cx="1009.2" cy="271.8" r="2.4" fill="#8e8e8e" opacity="0.4"/>
<circle cx="1029.8" cy="286.8" r="9.6" fill="none" stroke="#cacaca" stroke-width="2.4" opacity="0.4"/>
<circle cx="1029.8" cy="286.8" r="4.6" fill="none" stroke="#787878" stroke-width="5" opacity="0.3"/>
<circle cx="1029.8" cy="286.8" r="2.4" fill="#8e8e8e" opacity="0.4"/>
<circle cx="960.4" cy="198.7" r="9.6" fill="none" stroke="#cacaca" stroke-width="2.4" opacity="0.4"/>
<circle cx="960.4" cy="198.7" r="4.6" fill="none" stroke="#787878" stroke-width="5" opacity="0.3"/>
<circle cx="960.4" cy="198.7" r="2.4" fill="#8e8e8e" opacity="0.4"/>
<circle cx="861.1" cy="281.1" r="9.6" fill="none" stroke="#cacaca" stroke-width="2.4" opacity="0.4"/>
<circle cx="861.1" cy="281.1" r="4.6" fill="none" stroke="#787878" stroke-width="5" opacity="0.3"/>
<circle cx="861.1" cy="281.1" r="2.4" fill="#8e8e8e" opacity="0.4"/>
<circle cx="818.0" cy="395.4" r="9.6" fill="none" stroke="#cacaca" stroke-width="2.4" opacity="0.4"/>
<circle cx="818.0" cy="395.4" r="4.6" fill="none" stroke="#787878" stroke-width="5" opacity="0.3"/>
<circle cx="818.0" cy="395.4" r="2.4" fill="#8e8e8e" opacity="0.4"/>
<circle cx="664.3" cy="148.1" r="9.6" fill="none" stroke="#cacaca" stroke-width="2.4" opacity="0.4"/>
<circle cx="664.3" cy="148.1" r="4.6" fill="none" stroke="#787878" stroke-width="5" opacity="0.3"/>
<circle cx="664.3" cy="148.1" r="2.4" fill="#8e8e8e" opacity="0.4"/>
<circle cx="632.5" cy="202.4" r="9.6" fill="none" stroke="#cacaca" stroke-width="2.4" opacity="0.4"/>
<circle cx="632.5" cy="202.4" r="4.6" fill="none" stroke="#787878" stroke-width="5" opacity="0.3"/>
<circle cx="632.5" cy="202.4" r="2.4" fill="#8e8e8e" opacity="0.4"/>
<circle cx="619.4" cy="176.2" r="9.6" fill="none" stroke="#cacaca" stroke-width="2.4" opacity="0.4"/>
<circle cx="619.4" cy="176.2" r="4.6" fill="none" stroke="#787878" stroke-width="5" opacity="0.3"/>
<circle cx="619.4" cy="176.2" r="2.4" fill="#8e8e8e" opacity="0.4"/>
</g>
<path d="M725.6,119.6 C743.3,117.7 746.9,115.8 767.3,119.8 C787.7,123.8 783.5,120.5 802.0,134.7 C820.5,148.9 825.6,155.8 836.8,172.9 C848.0,190.0 842.9,183.5 843.9,199.0 C844.9,214.5 845.2,214.1 840.5,231.0 C835.8,247.9 839.6,247.5 826.4,262.2 C813.2,276.9 811.4,276.7 791.0,286.0 C770.6,295.3 771.9,297.3 750.0,297.0 C728.1,296.7 730.8,295.7 709.0,285.0 C687.2,274.3 683.5,271.1 668.3,257.0 C653.1,242.9 657.6,245.9 652.0,232.0 C646.4,218.1 646.5,221.3 647.3,205.0 C648.1,188.7 646.1,187.9 655.0,171.0 C663.9,154.1 668.2,153.3 680.5,141.6 C692.8,129.9 689.0,132.9 701.0,127.0 C713.0,121.1 707.9,121.5 725.6,119.6Z" fill="url(#gSph)" filter="url(#sphTex)"/>
<path d="M725.6,119.6 C743.3,117.7 746.9,115.8 767.3,119.8 C787.7,123.8 783.5,120.5 802.0,134.7 C820.5,148.9 825.6,155.8 836.8,172.9 C848.0,190.0 842.9,183.5 843.9,199.0 C844.9,214.5 845.2,214.1 840.5,231.0 C835.8,247.9 839.6,247.5 826.4,262.2 C813.2,276.9 811.4,276.7 791.0,286.0 C770.6,295.3 771.9,297.3 750.0,297.0 C728.1,296.7 730.8,295.7 709.0,285.0 C687.2,274.3 683.5,271.1 668.3,257.0 C653.1,242.9 657.6,245.9 652.0,232.0 C646.4,218.1 646.5,221.3 647.3,205.0 C648.1,188.7 646.1,187.9 655.0,171.0 C663.9,154.1 668.2,153.3 680.5,141.6 C692.8,129.9 689.0,132.9 701.0,127.0 C713.0,121.1 707.9,121.5 725.6,119.6Z" fill="none" stroke="#3c3c3c" stroke-width="1.2" opacity="0.8" filter="url(#b1)"/>
</g>
<rect x="906.5" y="418.7" width="221.6" height="4" fill="#fff" stroke="#333" stroke-width="0.7"/>
<text x="1017" y="431.3" font-size="6.2" font-weight="bold" text-anchor="middle" style="fill:#fff;stroke:#333;stroke-width:0.5px;paint-order:stroke">400 µm</text>
</g>
<rect x="64.4" y="60.0" width="525.7" height="394.0" fill="#000" filter="url(#shadow)"/>
<g clip-path="url(#cm)"><g filter="url(#mgrain)">
<rect x="64.4" y="60.0" width="525.7" height="394.0" fill="#b8b8b8"/>
<g fill="none" stroke="#d8d8d8" stroke-width="1">
<circle cx="181.2" cy="67.5" r="1.8"/>
<circle cx="80.0" cy="112.5" r="1.8"/>
<circle cx="104.3" cy="114.3" r="1.8"/>
<circle cx="119.3" cy="133.1" r="1.8"/>
<circle cx="126.8" cy="155.6" r="1.8"/>
<circle cx="96.9" cy="170.6" r="1.8"/>
<circle cx="214.9" cy="170.6" r="1.8"/>
<circle cx="98.7" cy="187.4" r="1.8"/>
<circle cx="321.7" cy="187.4" r="1.8"/>
<circle cx="494.2" cy="80.6" r="1.8"/>
<circle cx="574.7" cy="129.3" r="1.8"/>
<circle cx="505.4" cy="189.3" r="1.8"/>
<circle cx="136.2" cy="254.9" r="1.8"/>
<circle cx="368.6" cy="251.1" r="1.8"/>
<circle cx="466.0" cy="268.0" r="1.8"/>
<circle cx="527.9" cy="269.9" r="1.8"/>
<circle cx="297.4" cy="271.8" r="1.8"/>
<circle cx="192.4" cy="348.6" r="1.8"/>
<circle cx="220.5" cy="348.6" r="1.8"/>
<circle cx="126.8" cy="371.1" r="1.8"/>
<circle cx="527.9" cy="386.1" r="1.8"/>
<circle cx="78.1" cy="417.9" r="1.8"/>
<circle cx="259.9" cy="397.3" r="1.8"/>
<circle cx="346.1" cy="395.4" r="1.8"/>
<circle cx="316.1" cy="384.2" r="1.8"/>
<circle cx="424.8" cy="88.1" r="1.8"/>
<circle cx="378.0" cy="73.1" r="1.8"/>
<circle cx="261.8" cy="146.2" r="1.8"/>
<circle cx="198.1" cy="318.6" r="1.8"/>
<circle cx="492.3" cy="260.5" r="1.8"/>
</g>
<g filter="url(#cellf)" stroke="#fff" fill="#fff" stroke-linecap="round" stroke-linejoin="round">
<line x1="106.2" y1="71.2" x2="113.7" y2="80.6" stroke-width="8.8"/>
<line x1="113.7" y1="80.6" x2="123.1" y2="90.0" stroke-width="8.3"/>
<path stroke="none" d="M108.3,71.1 L105.5,57.9 L104.1,71.3 Z"/>
<path stroke="none" d="M108.3,71.1 L105.3,57.4 L104.1,71.4 Z"/>
<path stroke="none" d="M114.6,82.9 L127.3,75.5 L112.9,78.3 Z"/>
<path stroke="none" d="M112.1,82.5 L123.9,89.4 L115.3,78.7 Z"/>
<path stroke="none" d="M123.9,88.3 L114.8,85.8 L122.2,91.7 Z"/>
<line x1="164.3" y1="84.4" x2="171.8" y2="93.7" stroke-width="10.7"/>
<line x1="171.8" y1="93.7" x2="169.9" y2="108.7" stroke-width="14.6"/>
<line x1="169.9" y1="108.7" x2="175.6" y2="123.7" stroke-width="14.6"/>
<line x1="175.6" y1="123.7" x2="179.3" y2="138.7" stroke-width="12.7"/>
<line x1="179.3" y1="138.7" x2="175.6" y2="153.7" stroke-width="13.6"/>
<line x1="175.6" y1="153.7" x2="166.2" y2="168.7" stroke-width="17.5"/>
<line x1="166.2" y1="168.7" x2="160.6" y2="183.7" stroke-width="20.5"/>
<line x1="160.6" y1="183.7" x2="162.4" y2="193.1" stroke-width="17.5"/>
<path stroke="none" d="M165.4,86.2 L175.7,77.7 L163.3,82.5 Z"/>
<path stroke="none" d="M162.7,85.7 L172.4,93.9 L165.9,83.0 Z"/>
<path stroke="none" d="M169.3,94.4 L175.5,108.1 L174.3,93.1 Z"/>
<path stroke="none" d="M171.8,110.5 L181.7,96.6 L168.1,106.9 Z"/>
<path stroke="none" d="M170.6,106.2 L150.2,103.8 L169.3,111.2 Z"/>
<path stroke="none" d="M172.4,107.8 L161.6,87.4 L167.5,109.7 Z"/>
<path stroke="none" d="M173.1,122.9 L170.7,138.9 L178.0,124.5 Z"/>
<path stroke="none" d="M180.9,136.6 L169.7,131.5 L177.7,140.8 Z"/>
<path stroke="none" d="M177.1,137.3 L171.9,150.7 L181.5,140.1 Z"/>
<path stroke="none" d="M175.2,151.1 L158.6,155.8 L175.9,156.3 Z"/>
<path stroke="none" d="M178.1,153.0 L171.4,139.5 L173.1,154.4 Z"/>
<path stroke="none" d="M175.2,156.3 L196.3,156.7 L175.9,151.1 Z"/>
<path stroke="none" d="M175.3,156.3 L196.8,156.1 L175.9,151.1 Z"/>
<path stroke="none" d="M167.4,166.4 L151.6,160.8 L165.0,171.0 Z"/>
<path stroke="none" d="M163.7,169.5 L174.4,192.3 L168.6,167.8 Z"/>
<path stroke="none" d="M161.5,186.1 L181.0,175.9 L159.6,181.3 Z"/>
<path stroke="none" d="M161.0,181.1 L133.7,179.5 L160.2,186.2 Z"/>
<path stroke="none" d="M163.1,184.4 L168.8,156.7 L158.1,182.9 Z"/>
<path stroke="none" d="M161.0,195.2 L175.7,201.6 L163.9,190.9 Z"/>
<path stroke="none" d="M163.7,195.3 L176.2,185.3 L161.2,190.8 Z"/>
<line x1="130.6" y1="116.2" x2="134.3" y2="131.2" stroke-width="8.8"/>
<line x1="134.3" y1="131.2" x2="140.0" y2="146.2" stroke-width="9.7"/>
<line x1="140.0" y1="146.2" x2="149.3" y2="157.4" stroke-width="11.7"/>
<line x1="149.3" y1="157.4" x2="158.7" y2="168.7" stroke-width="14.6"/>
<path stroke="none" d="M131.2,114.2 L119.9,113.1 L130.0,118.2 Z"/>
<path stroke="none" d="M128.7,117.1 L135.0,125.3 L132.5,115.3 Z"/>
<path stroke="none" d="M134.4,133.7 L146.1,131.0 L134.3,128.7 Z"/>
<path stroke="none" d="M134.9,128.8 L121.5,128.5 L133.8,133.6 Z"/>
<path stroke="none" d="M142.2,147.3 L146.1,134.3 L137.8,145.1 Z"/>
<path stroke="none" d="M139.1,148.5 L155.0,151.7 L140.8,143.9 Z"/>
<path stroke="none" d="M151.5,158.8 L156.8,145.4 L147.1,156.1 Z"/>
<path stroke="none" d="M150.1,159.9 L166.5,151.8 L148.5,155.0 Z"/>
<path stroke="none" d="M157.1,170.7 L172.9,180.0 L160.3,166.7 Z"/>
<path stroke="none" d="M156.2,168.0 L153.6,186.3 L161.2,169.4 Z"/>
<path stroke="none" d="M160.8,170.2 L172.5,150.3 L156.6,167.1 Z"/>
<line x1="179.3" y1="138.7" x2="186.8" y2="153.7" stroke-width="9.7"/>
<line x1="186.8" y1="153.7" x2="199.9" y2="168.7" stroke-width="9.7"/>
<line x1="199.9" y1="168.7" x2="207.4" y2="179.9" stroke-width="9.7"/>
<line x1="207.4" y1="179.9" x2="203.7" y2="189.3" stroke-width="8.8"/>
<line x1="203.7" y1="189.3" x2="194.3" y2="191.2" stroke-width="6.8"/>
<path stroke="none" d="M179.1,136.2 L164.4,139.8 L179.5,141.2 Z"/>
<path stroke="none" d="M176.9,138.1 L176.0,151.4 L181.7,139.3 Z"/>
<path stroke="none" d="M187.0,156.2 L203.0,152.5 L186.6,151.2 Z"/>
<path stroke="none" d="M186.8,151.2 L174.0,153.8 L186.8,156.2 Z"/>
<path stroke="none" d="M202.3,169.2 L203.1,153.3 L197.5,168.2 Z"/>
<path stroke="none" d="M202.3,169.2 L203.3,153.9 L197.5,168.1 Z"/>
<path stroke="none" d="M202.0,167.4 L192.1,155.7 L197.8,170.0 Z"/>
<path stroke="none" d="M209.8,179.2 L203.9,168.0 L205.0,180.6 Z"/>
<path stroke="none" d="M209.9,180.2 L209.2,165.3 L205.0,179.6 Z"/>
<path stroke="none" d="M208.3,182.3 L221.1,175.1 L206.6,177.6 Z"/>
<path stroke="none" d="M203.5,191.4 L215.8,190.2 L203.8,187.2 Z"/>
<path stroke="none" d="M205.5,188.3 L198.1,178.9 L201.8,190.3 Z"/>
<path stroke="none" d="M205.4,188.0 L195.7,178.6 L202.0,190.6 Z"/>
<path stroke="none" d="M195.7,190.1 L187.4,182.4 L192.9,192.2 Z"/>
<path stroke="none" d="M192.9,190.2 L187.6,200.4 L195.7,192.2 Z"/>
<line x1="158.7" y1="191.2" x2="143.7" y2="198.7" stroke-width="9.7"/>
<line x1="143.7" y1="198.7" x2="132.5" y2="206.2" stroke-width="9.7"/>
<line x1="132.5" y1="206.2" x2="126.8" y2="217.4" stroke-width="8.8"/>
<path stroke="none" d="M161.0,190.2 L152.5,176.0 L156.4,192.1 Z"/>
<path stroke="none" d="M159.0,188.7 L144.9,189.6 L158.4,193.6 Z"/>
<path stroke="none" d="M144.7,201.0 L156.2,193.5 L142.8,196.4 Z"/>
<path stroke="none" d="M146.1,198.2 L140.9,184.0 L141.3,199.1 Z"/>
<path stroke="none" d="M133.7,204.0 L119.7,199.1 L131.3,208.3 Z"/>
<path stroke="none" d="M134.2,204.4 L121.6,195.5 L130.7,207.9 Z"/>
<path stroke="none" d="M134.9,205.7 L130.4,195.3 L130.0,206.6 Z"/>
<path stroke="none" d="M128.5,216.2 L120.5,208.7 L125.1,218.6 Z"/>
<path stroke="none" d="M128.4,216.0 L120.1,210.1 L125.3,218.8 Z"/>
<line x1="134.3" y1="131.2" x2="151.2" y2="127.5" stroke-width="5.8"/>
<line x1="151.2" y1="127.5" x2="166.2" y2="131.2" stroke-width="6.8"/>
<path stroke="none" d="M132.6,131.5 L135.6,139.9 L136.0,131.0 Z"/>
<path stroke="none" d="M149.6,128.2 L155.1,135.9 L152.8,126.7 Z"/>
<path stroke="none" d="M164.8,129.7 L157.1,139.7 L167.6,132.7 Z"/>
<path stroke="none" d="M164.1,131.4 L167.2,145.0 L168.3,131.0 Z"/>
<line x1="239.3" y1="63.7" x2="233.7" y2="75.0" stroke-width="10.7"/>
<line x1="233.7" y1="75.0" x2="224.3" y2="86.2" stroke-width="14.6"/>
<line x1="224.3" y1="86.2" x2="220.5" y2="101.2" stroke-width="15.6"/>
<line x1="220.5" y1="101.2" x2="218.7" y2="114.3" stroke-width="13.6"/>
<line x1="218.7" y1="114.3" x2="213.0" y2="121.8" stroke-width="8.8"/>
<path stroke="none" d="M237.2,63.4 L237.2,75.1 L241.3,64.1 Z"/>
<path stroke="none" d="M237.8,62.3 L232.3,70.8 L240.8,65.2 Z"/>
<path stroke="none" d="M232.2,77.1 L248.1,84.8 L235.1,72.8 Z"/>
<path stroke="none" d="M234.9,72.7 L215.6,64.9 L232.4,77.3 Z"/>
<path stroke="none" d="M232.4,72.7 L216.6,84.5 L234.9,77.3 Z"/>
<path stroke="none" d="M222.4,84.5 L213.7,97.6 L226.2,88.0 Z"/>
<path stroke="none" d="M225.3,83.8 L203.2,77.3 L223.3,88.6 Z"/>
<path stroke="none" d="M225.9,84.2 L210.8,75.3 L222.6,88.2 Z"/>
<path stroke="none" d="M224.3,88.8 L239.5,86.3 L224.3,83.6 Z"/>
<path stroke="none" d="M222.3,99.3 L208.9,91.0 L218.8,103.2 Z"/>
<path stroke="none" d="M222.2,103.2 L234.2,90.1 L218.9,99.2 Z"/>
<path stroke="none" d="M218.0,101.6 L223.0,117.9 L223.1,100.8 Z"/>
<path stroke="none" d="M218.8,99.3 L203.9,116.9 L222.3,103.1 Z"/>
<path stroke="none" d="M220.1,112.2 L207.3,106.6 L217.2,116.5 Z"/>
<path stroke="none" d="M218.6,111.7 L203.9,114.7 L218.7,116.9 Z"/>
<path stroke="none" d="M218.9,116.9 L233.9,112.8 L218.4,111.8 Z"/>
<path stroke="none" d="M212.8,120.1 L204.1,123.1 L213.3,123.5 Z"/>
<path stroke="none" d="M212.4,120.2 L204.0,125.2 L213.6,123.5 Z"/>
<line x1="233.7" y1="75.0" x2="244.9" y2="86.2" stroke-width="5.8"/>
<line x1="244.9" y1="86.2" x2="237.4" y2="105.0" stroke-width="6.8"/>
<line x1="237.4" y1="105.0" x2="226.2" y2="116.2" stroke-width="7.8"/>
<path stroke="none" d="M235.2,75.8 L237.7,67.3 L232.1,74.2 Z"/>
<path stroke="none" d="M232.0,74.7 L231.9,86.6 L235.4,75.2 Z"/>
<path stroke="none" d="M243.2,86.3 L245.2,95.7 L246.6,86.2 Z"/>
<path stroke="none" d="M235.4,104.4 L234.1,117.0 L239.4,105.5 Z"/>
<path stroke="none" d="M239.1,103.7 L229.8,95.1 L235.7,106.3 Z"/>
<path stroke="none" d="M236.0,106.5 L247.1,113.9 L238.8,103.4 Z"/>
<path stroke="none" d="M226.6,114.2 L215.2,113.9 L225.7,118.3 Z"/>
<path stroke="none" d="M226.6,114.2 L214.5,114.0 L225.8,118.3 Z"/>
<path stroke="none" d="M228.3,116.1 L225.8,103.8 L224.1,116.3 Z"/>
<line x1="224.3" y1="146.2" x2="233.7" y2="148.1" stroke-width="11.7"/>
<line x1="233.7" y1="148.1" x2="235.5" y2="157.4" stroke-width="11.7"/>
<path stroke="none" d="M223.6,143.8 L208.9,150.6 L225.0,148.6 Z"/>
<path stroke="none" d="M225.0,143.8 L213.8,143.1 L223.6,148.6 Z"/>
<path stroke="none" d="M232.5,145.7 L217.8,155.8 L234.8,150.4 Z"/>
<path stroke="none" d="M235.6,146.3 L222.3,135.6 L231.7,149.8 Z"/>
<path stroke="none" d="M231.9,146.1 L221.5,158.8 L235.4,150.0 Z"/>
<path stroke="none" d="M233.2,158.3 L239.7,169.3 L237.9,156.6 Z"/>
<path stroke="none" d="M234.5,159.7 L249.8,163.7 L236.5,155.2 Z"/>
<path stroke="none" d="M234.5,155.2 L224.1,162.6 L236.5,159.7 Z"/>
<line x1="304.9" y1="80.6" x2="301.1" y2="91.9" stroke-width="3.4"/>
<line x1="301.1" y1="91.9" x2="289.9" y2="105.0" stroke-width="2.4"/>
<line x1="289.9" y1="105.0" x2="276.8" y2="120.0" stroke-width="2.9"/>
<line x1="276.8" y1="120.0" x2="271.1" y2="131.2" stroke-width="3.9"/>
<line x1="271.1" y1="131.2" x2="267.4" y2="138.7" stroke-width="2.9"/>
<path stroke="none" d="M305.6,81.7 L311.5,76.4 L304.2,79.5 Z"/>
<path stroke="none" d="M305.3,79.3 L296.7,78.0 L304.5,81.9 Z"/>
<path stroke="none" d="M300.2,92.5 L305.6,98.4 L302.1,91.2 Z"/>
<path stroke="none" d="M300.6,92.9 L307.8,94.9 L301.6,90.8 Z"/>
<path stroke="none" d="M290.8,105.2 L291.7,98.1 L288.9,104.7 Z"/>
<path stroke="none" d="M276.9,121.3 L286.4,118.7 L276.6,118.6 Z"/>
<path stroke="none" d="M276.4,121.2 L285.7,122.8 L277.2,118.7 Z"/>
<path stroke="none" d="M271.5,132.5 L279.8,128.5 L270.7,129.9 Z"/>
<path stroke="none" d="M267.9,139.6 L273.1,135.5 L266.9,137.9 Z"/>
<line x1="299.3" y1="118.1" x2="308.6" y2="125.6" stroke-width="12.7"/>
<line x1="308.6" y1="125.6" x2="323.6" y2="129.3" stroke-width="16.6"/>
<line x1="323.6" y1="129.3" x2="342.4" y2="129.3" stroke-width="17.5"/>
<line x1="342.4" y1="129.3" x2="357.3" y2="135.0" stroke-width="18.5"/>
<line x1="357.3" y1="135.0" x2="372.3" y2="138.7" stroke-width="20.5"/>
<line x1="372.3" y1="138.7" x2="387.3" y2="133.1" stroke-width="20.5"/>
<line x1="387.3" y1="133.1" x2="402.3" y2="121.8" stroke-width="17.5"/>
<line x1="402.3" y1="121.8" x2="417.3" y2="112.5" stroke-width="14.6"/>
<line x1="417.3" y1="112.5" x2="432.3" y2="108.7" stroke-width="13.6"/>
<line x1="432.3" y1="108.7" x2="447.3" y2="105.0" stroke-width="12.7"/>
<line x1="447.3" y1="105.0" x2="462.3" y2="103.1" stroke-width="10.7"/>
<line x1="462.3" y1="103.1" x2="477.3" y2="101.2" stroke-width="10.7"/>
<line x1="477.3" y1="101.2" x2="496.0" y2="105.0" stroke-width="9.7"/>
<line x1="496.0" y1="105.0" x2="514.8" y2="108.7" stroke-width="7.8"/>
<line x1="514.8" y1="108.7" x2="531.6" y2="114.3" stroke-width="6.8"/>
<path stroke="none" d="M298.0,116.0 L289.2,124.2 L300.5,120.2 Z"/>
<path stroke="none" d="M298.6,120.5 L310.3,121.2 L299.9,115.7 Z"/>
<path stroke="none" d="M298.2,120.3 L309.3,123.0 L300.3,115.9 Z"/>
<path stroke="none" d="M311.2,125.5 L307.6,103.5 L306.0,125.7 Z"/>
<path stroke="none" d="M306.2,124.6 L300.9,143.6 L311.0,126.6 Z"/>
<path stroke="none" d="M309.6,128.0 L324.9,119.0 L307.6,123.2 Z"/>
<path stroke="none" d="M321.5,130.8 L336.3,147.0 L325.7,127.8 Z"/>
<path stroke="none" d="M325.0,131.5 L341.4,118.1 L322.2,127.1 Z"/>
<path stroke="none" d="M321.0,129.1 L321.9,150.2 L326.2,129.5 Z"/>
<path stroke="none" d="M345.0,129.3 L342.4,108.7 L339.8,129.3 Z"/>
<path stroke="none" d="M344.9,129.1 L340.9,112.2 L339.8,129.5 Z"/>
<path stroke="none" d="M359.5,133.5 L347.5,120.5 L355.2,136.4 Z"/>
<path stroke="none" d="M355.9,137.1 L372.4,144.7 L358.8,132.8 Z"/>
<path stroke="none" d="M354.8,135.1 L359.2,161.2 L359.9,134.8 Z"/>
<path stroke="none" d="M355.0,133.8 L346.0,157.8 L359.7,136.1 Z"/>
<path stroke="none" d="M371.5,141.2 L390.7,145.1 L373.2,136.2 Z"/>
<path stroke="none" d="M374.7,137.6 L363.8,120.2 L370.0,139.8 Z"/>
<path stroke="none" d="M389.6,131.8 L374.2,110.9 L385.1,134.4 Z"/>
<path stroke="none" d="M385.3,131.5 L375.7,148.3 L389.4,134.7 Z"/>
<path stroke="none" d="M389.0,131.1 L371.9,119.7 L385.6,135.0 Z"/>
<path stroke="none" d="M400.4,123.5 L416.5,138.3 L404.3,120.1 Z"/>
<path stroke="none" d="M404.8,122.7 L408.4,104.7 L399.9,121.0 Z"/>
<path stroke="none" d="M402.6,119.3 L382.9,119.7 L402.0,124.4 Z"/>
<path stroke="none" d="M404.9,121.7 L401.2,104.1 L399.7,122.0 Z"/>
<path stroke="none" d="M432.0,106.1 L413.3,111.0 L432.6,111.3 Z"/>
<path stroke="none" d="M449.0,107.0 L459.7,94.6 L445.6,103.0 Z"/>
<path stroke="none" d="M446.7,102.4 L434.9,107.7 L447.9,107.5 Z"/>
<path stroke="none" d="M460.7,101.2 L450.4,113.5 L463.9,105.0 Z"/>
<path stroke="none" d="M474.7,100.8 L475.0,114.1 L479.8,101.7 Z"/>
<path stroke="none" d="M474.7,101.5 L478.7,116.4 L479.9,101.0 Z"/>
<path stroke="none" d="M494.5,103.5 L486.5,115.2 L497.6,106.4 Z"/>
<path stroke="none" d="M497.9,104.0 L490.6,94.4 L494.2,105.9 Z"/>
<path stroke="none" d="M494.6,106.5 L505.4,113.6 L497.4,103.4 Z"/>
<path stroke="none" d="M516.6,107.8 L508.8,97.1 L512.9,109.7 Z"/>
<line x1="368.6" y1="153.7" x2="374.2" y2="164.9" stroke-width="18.5"/>
<line x1="374.2" y1="164.9" x2="379.8" y2="174.3" stroke-width="11.7"/>
<path stroke="none" d="M369.0,156.3 L390.4,150.0 L368.2,151.1 Z"/>
<path stroke="none" d="M368.1,151.1 L347.9,157.9 L369.1,156.2 Z"/>
<path stroke="none" d="M371.1,153.2 L364.7,134.5 L366.0,154.2 Z"/>
<path stroke="none" d="M375.2,167.4 L392.9,157.6 L373.3,162.5 Z"/>
<path stroke="none" d="M374.6,167.5 L388.3,162.7 L373.8,162.4 Z"/>
<path stroke="none" d="M378.7,172.5 L371.4,179.6 L381.0,176.1 Z"/>
<path stroke="none" d="M380.0,176.4 L391.9,173.5 L379.7,172.2 Z"/>
<path stroke="none" d="M378.7,176.1 L388.2,179.9 L381.0,172.6 Z"/>
<line x1="385.5" y1="181.8" x2="386.2" y2="193.1" stroke-width="2.4"/>
<path stroke="none" d="M385.4,180.6 L377.0,182.3 L385.5,183.0 Z"/>
<line x1="477.3" y1="101.2" x2="481.0" y2="86.2" stroke-width="5.4"/>
<line x1="481.0" y1="86.2" x2="484.8" y2="71.2" stroke-width="4.9"/>
<line x1="484.8" y1="71.2" x2="490.4" y2="63.7" stroke-width="5.4"/>
<path stroke="none" d="M476.7,102.8 L486.1,104.7 L477.9,99.6 Z"/>
<path stroke="none" d="M475.7,100.6 L474.3,109.5 L478.9,101.8 Z"/>
<path stroke="none" d="M479.6,86.9 L485.1,94.8 L482.4,85.6 Z"/>
<path stroke="none" d="M485.1,69.7 L476.6,69.6 L484.5,72.7 Z"/>
<path stroke="none" d="M483.8,72.4 L492.2,77.3 L485.7,70.0 Z"/>
<path stroke="none" d="M491.4,62.3 L481.0,57.1 L489.4,65.1 Z"/>
<line x1="454.8" y1="105.0" x2="452.9" y2="90.0" stroke-width="3.4"/>
<path stroke="none" d="M454.7,103.6 L446.0,105.7 L454.9,106.3 Z"/>
<path stroke="none" d="M453.7,89.2 L447.2,84.2 L452.1,90.8 Z"/>
<path stroke="none" d="M451.8,89.6 L450.2,97.2 L454.0,90.4 Z"/>
<line x1="402.3" y1="121.8" x2="400.4" y2="105.0" stroke-width="3.9"/>
<line x1="400.4" y1="105.0" x2="396.7" y2="91.9" stroke-width="4.4"/>
<line x1="396.7" y1="91.9" x2="394.8" y2="82.5" stroke-width="4.4"/>
<path stroke="none" d="M401.0,122.1 L403.6,129.5 L403.7,121.6 Z"/>
<path stroke="none" d="M401.6,123.0 L410.2,126.7 L403.0,120.7 Z"/>
<path stroke="none" d="M399.2,104.5 L397.5,112.2 L401.7,105.5 Z"/>
<path stroke="none" d="M395.5,81.3 L387.7,78.7 L394.2,83.7 Z"/>
<line x1="490.4" y1="63.7" x2="511.0" y2="63.7" stroke-width="7.8"/>
<line x1="511.0" y1="63.7" x2="533.5" y2="65.6" stroke-width="7.8"/>
<line x1="533.5" y1="65.6" x2="552.2" y2="71.2" stroke-width="8.8"/>
<line x1="552.2" y1="71.2" x2="563.5" y2="80.6" stroke-width="11.7"/>
<line x1="563.5" y1="80.6" x2="572.9" y2="90.0" stroke-width="11.7"/>
<path stroke="none" d="M489.8,65.7 L500.6,66.9 L491.0,61.7 Z"/>
<path stroke="none" d="M488.9,62.3 L483.3,71.0 L491.9,65.2 Z"/>
<path stroke="none" d="M488.5,62.9 L485.3,75.8 L492.3,64.6 Z"/>
<path stroke="none" d="M512.3,65.4 L521.1,56.0 L509.7,62.1 Z"/>
<path stroke="none" d="M512.0,61.9 L500.6,58.4 L510.1,65.6 Z"/>
<path stroke="none" d="M512.8,62.6 L503.2,52.1 L509.3,64.9 Z"/>
<path stroke="none" d="M535.5,65.0 L530.2,55.2 L531.5,66.2 Z"/>
<path stroke="none" d="M532.1,64.1 L525.9,72.6 L534.9,67.2 Z"/>
<path stroke="none" d="M554.5,70.1 L546.6,60.1 L550.0,72.3 Z"/>
<path stroke="none" d="M564.4,78.2 L551.0,75.9 L562.6,83.0 Z"/>
<path stroke="none" d="M574.8,91.6 L583.2,77.5 L571.0,88.4 Z"/>
<path stroke="none" d="M570.4,90.3 L574.4,103.2 L575.3,89.7 Z"/>
<path stroke="none" d="M570.7,88.8 L567.6,99.6 L575.0,91.2 Z"/>
<line x1="572.9" y1="90.0" x2="567.2" y2="101.2" stroke-width="4.4"/>
<path stroke="none" d="M574.2,90.7 L577.6,81.0 L571.5,89.3 Z"/>
<path stroke="none" d="M566.1,101.9 L571.6,109.2 L568.4,100.6 Z"/>
<path stroke="none" d="M567.7,102.5 L575.8,97.7 L566.7,100.0 Z"/>
<line x1="261.8" y1="161.2" x2="265.5" y2="172.4" stroke-width="7.8"/>
<line x1="265.5" y1="172.4" x2="274.9" y2="179.9" stroke-width="8.8"/>
<line x1="274.9" y1="179.9" x2="284.3" y2="185.6" stroke-width="7.8"/>
<line x1="284.3" y1="185.6" x2="288.0" y2="194.9" stroke-width="7.8"/>
<line x1="288.0" y1="194.9" x2="297.4" y2="198.7" stroke-width="7.8"/>
<line x1="297.4" y1="198.7" x2="308.6" y2="199.4" stroke-width="6.3"/>
<path stroke="none" d="M262.6,162.7 L270.5,156.0 L260.9,159.7 Z"/>
<path stroke="none" d="M264.6,170.1 L251.3,177.9 L266.4,174.7 Z"/>
<path stroke="none" d="M266.0,170.0 L249.5,169.1 L265.0,174.9 Z"/>
<path stroke="none" d="M264.0,174.4 L277.8,181.8 L267.0,170.5 Z"/>
<path stroke="none" d="M274.2,181.9 L288.3,184.5 L275.6,177.9 Z"/>
<path stroke="none" d="M274.7,177.8 L261.3,181.5 L275.1,182.0 Z"/>
<path stroke="none" d="M282.2,186.0 L286.6,196.3 L286.3,185.1 Z"/>
<path stroke="none" d="M282.6,184.2 L276.1,195.8 L285.9,186.9 Z"/>
<path stroke="none" d="M285.9,194.9 L288.2,209.1 L290.1,194.9 Z"/>
<path stroke="none" d="M289.7,196.2 L295.4,184.8 L286.3,193.7 Z"/>
<path stroke="none" d="M295.7,200.0 L305.8,209.2 L299.0,197.4 Z"/>
<path stroke="none" d="M296.9,200.7 L307.6,201.1 L297.9,196.6 Z"/>
<path stroke="none" d="M309.5,200.7 L315.6,194.4 L307.7,198.2 Z"/>
<path stroke="none" d="M307.2,198.7 L304.1,208.3 L310.0,200.1 Z"/>
<line x1="265.5" y1="172.4" x2="259.9" y2="187.4" stroke-width="5.8"/>
<line x1="259.9" y1="187.4" x2="263.6" y2="198.7" stroke-width="6.8"/>
<line x1="263.6" y1="198.7" x2="271.1" y2="209.9" stroke-width="7.8"/>
<line x1="271.1" y1="209.9" x2="265.5" y2="221.2" stroke-width="7.8"/>
<line x1="265.5" y1="221.2" x2="254.3" y2="228.7" stroke-width="7.8"/>
<line x1="254.3" y1="228.7" x2="244.9" y2="228.7" stroke-width="6.8"/>
<path stroke="none" d="M266.7,171.2 L257.4,164.5 L264.3,173.7 Z"/>
<path stroke="none" d="M265.4,174.2 L275.8,173.1 L265.6,170.7 Z"/>
<path stroke="none" d="M258.3,188.1 L263.9,196.5 L261.5,186.7 Z"/>
<path stroke="none" d="M259.6,189.1 L269.4,189.1 L260.2,185.7 Z"/>
<path stroke="none" d="M263.3,196.6 L250.9,200.6 L264.0,200.7 Z"/>
<path stroke="none" d="M263.9,200.8 L277.0,197.2 L263.4,196.6 Z"/>
<path stroke="none" d="M265.6,197.9 L259.2,186.7 L261.7,199.4 Z"/>
<path stroke="none" d="M273.1,210.5 L274.6,199.1 L269.1,209.3 Z"/>
<path stroke="none" d="M273.0,209.0 L266.0,199.0 L269.2,210.8 Z"/>
<path stroke="none" d="M270.2,211.8 L280.1,214.7 L272.1,208.1 Z"/>
<path stroke="none" d="M266.5,219.3 L254.0,214.8 L264.5,223.0 Z"/>
<path stroke="none" d="M263.6,220.4 L260.7,234.2 L267.5,221.9 Z"/>
<path stroke="none" d="M267.6,220.7 L263.4,211.3 L263.5,221.6 Z"/>
<path stroke="none" d="M256.1,227.6 L247.5,216.3 L252.4,229.7 Z"/>
<path stroke="none" d="M256.2,227.9 L249.1,216.2 L252.3,229.5 Z"/>
<path stroke="none" d="M255.6,227.0 L246.1,221.8 L252.9,230.3 Z"/>
<path stroke="none" d="M245.9,230.0 L252.4,222.9 L243.9,227.3 Z"/>
<path stroke="none" d="M245.4,227.0 L235.3,225.9 L244.4,230.3 Z"/>
<line x1="271.1" y1="209.9" x2="282.4" y2="217.4" stroke-width="5.8"/>
<line x1="282.4" y1="217.4" x2="288.0" y2="206.2" stroke-width="5.8"/>
<line x1="288.0" y1="206.2" x2="288.0" y2="194.9" stroke-width="5.8"/>
<path stroke="none" d="M269.6,210.7 L275.9,219.7 L272.7,209.2 Z"/>
<path stroke="none" d="M283.3,218.9 L291.4,211.7 L281.5,216.0 Z"/>
<path stroke="none" d="M281.3,218.8 L290.9,224.3 L283.5,216.1 Z"/>
<path stroke="none" d="M289.7,205.8 L285.9,196.5 L286.3,206.5 Z"/>
<path stroke="none" d="M286.3,206.6 L290.2,215.6 L289.7,205.8 Z"/>
<path stroke="none" d="M289.2,193.7 L279.6,186.8 L286.8,196.2 Z"/>
<line x1="274.9" y1="179.9" x2="271.1" y2="194.9" stroke-width="4.9"/>
<line x1="271.1" y1="194.9" x2="271.1" y2="209.9" stroke-width="4.9"/>
<path stroke="none" d="M276.4,180.1 L275.8,171.3 L273.4,179.8 Z"/>
<path stroke="none" d="M272.5,195.7 L276.2,185.7 L269.8,194.2 Z"/>
<path stroke="none" d="M270.4,193.6 L263.1,199.5 L271.9,196.3 Z"/>
<path stroke="none" d="M272.0,211.2 L278.5,204.9 L270.3,208.6 Z"/>
<path stroke="none" d="M272.1,208.7 L262.6,203.3 L270.2,211.1 Z"/>
<line x1="244.9" y1="176.2" x2="254.3" y2="174.3" stroke-width="4.9"/>
<line x1="254.3" y1="174.3" x2="265.5" y2="172.4" stroke-width="4.9"/>
<path stroke="none" d="M255.2,173.1 L247.4,169.1 L253.3,175.5 Z"/>
<path stroke="none" d="M266.7,171.5 L259.5,164.5 L264.3,173.4 Z"/>
<line x1="169.9" y1="239.9" x2="181.2" y2="243.7" stroke-width="11.7"/>
<line x1="181.2" y1="243.7" x2="196.2" y2="247.4" stroke-width="19.5"/>
<line x1="196.2" y1="247.4" x2="211.2" y2="251.1" stroke-width="26.3"/>
<line x1="211.2" y1="251.1" x2="226.2" y2="258.6" stroke-width="31.2"/>
<line x1="226.2" y1="258.6" x2="237.4" y2="269.9" stroke-width="30.2"/>
<line x1="237.4" y1="269.9" x2="252.4" y2="273.6" stroke-width="23.4"/>
<line x1="252.4" y1="273.6" x2="267.4" y2="279.3" stroke-width="15.6"/>
<line x1="267.4" y1="279.3" x2="282.4" y2="279.3" stroke-width="9.7"/>
<path stroke="none" d="M169.2,241.8 L181.0,244.4 L170.7,238.0 Z"/>
<path stroke="none" d="M170.5,241.9 L180.7,236.9 L169.4,237.9 Z"/>
<path stroke="none" d="M171.6,238.6 L161.4,228.9 L168.3,241.2 Z"/>
<path stroke="none" d="M183.4,245.1 L191.2,228.0 L179.0,242.2 Z"/>
<path stroke="none" d="M194.6,249.5 L219.1,265.1 L197.8,245.3 Z"/>
<path stroke="none" d="M213.5,252.2 L225.6,218.5 L208.8,250.1 Z"/>
<path stroke="none" d="M212.4,253.5 L245.2,233.6 L210.0,248.8 Z"/>
<path stroke="none" d="M211.7,253.7 L234.5,246.0 L210.6,248.6 Z"/>
<path stroke="none" d="M225.5,256.1 L190.0,268.2 L226.8,261.2 Z"/>
<path stroke="none" d="M224.9,260.9 L253.9,274.8 L227.5,256.4 Z"/>
<path stroke="none" d="M235.6,268.0 L221.2,286.0 L239.2,271.7 Z"/>
<path stroke="none" d="M235.6,268.1 L215.0,292.4 L239.3,271.7 Z"/>
<path stroke="none" d="M238.0,272.4 L272.3,261.6 L236.8,267.4 Z"/>
<path stroke="none" d="M255.0,273.2 L248.8,254.1 L249.8,274.1 Z"/>
<path stroke="none" d="M250.3,272.1 L237.3,293.3 L254.5,275.2 Z"/>
<path stroke="none" d="M250.6,271.7 L237.8,287.0 L254.2,275.6 Z"/>
<path stroke="none" d="M269.8,278.4 L261.7,262.9 L264.9,280.1 Z"/>
<path stroke="none" d="M264.9,278.5 L263.3,292.9 L269.9,280.0 Z"/>
<path stroke="none" d="M267.7,276.7 L255.1,277.8 L267.1,281.8 Z"/>
<path stroke="none" d="M280.3,279.4 L283.4,292.0 L284.5,279.1 Z"/>
<path stroke="none" d="M281.2,281.0 L292.2,286.0 L283.6,277.5 Z"/>
<line x1="214.9" y1="209.9" x2="218.7" y2="224.9" stroke-width="8.8"/>
<line x1="218.7" y1="224.9" x2="218.7" y2="239.9" stroke-width="15.6"/>
<path stroke="none" d="M215.4,208.3 L205.3,207.4 L214.5,211.6 Z"/>
<path stroke="none" d="M214.0,211.4 L223.1,215.3 L215.9,208.5 Z"/>
<path stroke="none" d="M218.6,227.5 L235.8,225.5 L218.7,222.3 Z"/>
<path stroke="none" d="M218.4,227.5 L232.3,226.3 L218.9,222.3 Z"/>
<path stroke="none" d="M216.9,223.0 L207.2,235.3 L220.4,226.8 Z"/>
<path stroke="none" d="M217.7,237.5 L198.3,247.6 L219.6,242.3 Z"/>
<line x1="237.4" y1="209.9" x2="233.7" y2="224.9" stroke-width="7.8"/>
<line x1="233.7" y1="224.9" x2="229.9" y2="239.9" stroke-width="12.7"/>
<path stroke="none" d="M237.9,211.6 L247.9,206.8 L236.9,208.3 Z"/>
<path stroke="none" d="M236.8,211.5 L246.8,213.2 L238.0,208.3 Z"/>
<path stroke="none" d="M232.7,222.6 L220.6,230.6 L234.6,227.2 Z"/>
<path stroke="none" d="M235.6,223.4 L224.8,213.5 L231.7,226.4 Z"/>
<path stroke="none" d="M228.6,237.7 L211.0,251.4 L231.3,242.1 Z"/>
<path stroke="none" d="M231.2,242.1 L245.1,231.0 L228.6,237.7 Z"/>
<path stroke="none" d="M232.5,240.0 L230.8,217.7 L227.3,239.8 Z"/>
<line x1="199.9" y1="269.9" x2="207.4" y2="277.4" stroke-width="10.7"/>
<path stroke="none" d="M198.7,267.6 L181.6,279.6 L201.1,272.2 Z"/>
<path stroke="none" d="M197.4,270.4 L203.3,286.0 L202.5,269.3 Z"/>
<path stroke="none" d="M207.0,275.3 L196.6,279.5 L207.8,279.4 Z"/>
<path stroke="none" d="M206.0,278.9 L214.9,284.7 L208.9,275.9 Z"/>
<path stroke="none" d="M206.5,279.3 L217.7,282.5 L208.4,275.5 Z"/>
<line x1="267.4" y1="281.1" x2="286.1" y2="284.9" stroke-width="7.8"/>
<line x1="286.1" y1="284.9" x2="304.9" y2="283.0" stroke-width="7.8"/>
<line x1="304.9" y1="283.0" x2="316.1" y2="277.4" stroke-width="8.8"/>
<line x1="316.1" y1="277.4" x2="327.4" y2="288.6" stroke-width="8.8"/>
<path stroke="none" d="M268.8,282.7 L275.4,274.1 L266.0,279.6 Z"/>
<path stroke="none" d="M267.9,283.2 L279.5,278.1 L266.9,279.1 Z"/>
<path stroke="none" d="M286.9,286.8 L295.3,281.1 L285.3,282.9 Z"/>
<path stroke="none" d="M302.8,282.8 L303.5,296.1 L307.0,283.2 Z"/>
<path stroke="none" d="M306.9,283.3 L306.5,272.7 L302.8,282.7 Z"/>
<path stroke="none" d="M316.5,279.8 L330.8,275.1 L315.7,274.9 Z"/>
<path stroke="none" d="M325.9,287.1 L319.3,296.7 L328.8,290.1 Z"/>
<path stroke="none" d="M328.4,286.8 L315.1,281.7 L326.3,290.5 Z"/>
<line x1="314.2" y1="277.4" x2="314.2" y2="258.6" stroke-width="5.8"/>
<line x1="314.2" y1="258.6" x2="312.4" y2="243.7" stroke-width="6.8"/>
<line x1="312.4" y1="243.7" x2="306.7" y2="238.0" stroke-width="6.8"/>
<path stroke="none" d="M312.5,277.2 L313.4,287.8 L316.0,277.5 Z"/>
<path stroke="none" d="M313.0,278.5 L321.1,285.0 L315.5,276.2 Z"/>
<path stroke="none" d="M314.2,260.4 L325.5,259.2 L314.3,256.9 Z"/>
<path stroke="none" d="M314.3,256.9 L303.6,258.4 L314.2,260.4 Z"/>
<path stroke="none" d="M311.6,245.6 L323.6,247.8 L313.1,241.7 Z"/>
<path stroke="none" d="M310.6,242.5 L306.8,251.8 L314.1,244.8 Z"/>
<path stroke="none" d="M306.2,236.4 L296.4,241.4 L307.3,239.7 Z"/>
<path stroke="none" d="M305.5,236.8 L299.6,245.6 L308.0,239.2 Z"/>
<line x1="422.9" y1="238.0" x2="415.4" y2="247.4" stroke-width="7.8"/>
<line x1="415.4" y1="247.4" x2="406.1" y2="254.9" stroke-width="13.6"/>
<line x1="406.1" y1="254.9" x2="393.0" y2="258.6" stroke-width="20.5"/>
<line x1="393.0" y1="258.6" x2="383.6" y2="269.9" stroke-width="24.4"/>
<line x1="383.6" y1="269.9" x2="376.1" y2="284.9" stroke-width="24.4"/>
<line x1="376.1" y1="284.9" x2="368.6" y2="299.9" stroke-width="24.4"/>
<line x1="368.6" y1="299.9" x2="357.3" y2="307.4" stroke-width="26.3"/>
<line x1="357.3" y1="307.4" x2="346.1" y2="314.9" stroke-width="26.3"/>
<line x1="346.1" y1="314.9" x2="334.9" y2="322.4" stroke-width="24.4"/>
<line x1="334.9" y1="322.4" x2="323.6" y2="329.9" stroke-width="19.5"/>
<line x1="323.6" y1="329.9" x2="312.4" y2="335.5" stroke-width="13.6"/>
<line x1="312.4" y1="335.5" x2="297.4" y2="341.1" stroke-width="10.7"/>
<line x1="297.4" y1="341.1" x2="282.4" y2="348.6" stroke-width="9.7"/>
<line x1="282.4" y1="348.6" x2="271.1" y2="356.1" stroke-width="9.7"/>
<path stroke="none" d="M423.6,239.6 L433.9,233.5 L422.3,236.4 Z"/>
<path stroke="none" d="M421.3,237.5 L420.0,246.7 L424.6,238.6 Z"/>
<path stroke="none" d="M414.3,249.6 L427.3,253.7 L416.6,245.2 Z"/>
<path stroke="none" d="M415.9,245.0 L402.6,245.1 L415.0,249.8 Z"/>
<path stroke="none" d="M413.1,246.6 L411.2,260.7 L417.8,248.2 Z"/>
<path stroke="none" d="M404.1,256.6 L418.3,269.3 L408.1,253.2 Z"/>
<path stroke="none" d="M407.1,252.5 L390.1,247.9 L405.0,257.3 Z"/>
<path stroke="none" d="M405.1,257.3 L421.2,260.9 L407.0,252.5 Z"/>
<path stroke="none" d="M404.0,256.5 L421.6,274.7 L408.1,253.3 Z"/>
<path stroke="none" d="M390.4,258.2 L388.2,287.6 L395.5,259.1 Z"/>
<path stroke="none" d="M390.4,258.4 L390.7,288.5 L395.5,258.8 Z"/>
<path stroke="none" d="M391.3,256.7 L372.1,276.2 L394.6,260.6 Z"/>
<path stroke="none" d="M385.4,271.7 L402.3,251.5 L381.8,268.0 Z"/>
<path stroke="none" d="M381.3,271.0 L393.3,289.5 L385.9,268.7 Z"/>
<path stroke="none" d="M384.6,267.5 L365.0,262.4 L382.6,272.3 Z"/>
<path stroke="none" d="M376.0,282.3 L345.6,286.0 L376.2,287.5 Z"/>
<path stroke="none" d="M374.3,286.8 L397.2,304.0 L377.8,283.0 Z"/>
<path stroke="none" d="M370.3,297.9 L351.0,284.9 L366.9,301.9 Z"/>
<path stroke="none" d="M366.9,301.9 L384.5,313.2 L370.3,297.9 Z"/>
<path stroke="none" d="M367.2,302.0 L386.0,311.3 L370.0,297.7 Z"/>
<path stroke="none" d="M370.7,298.3 L349.1,273.4 L366.5,301.4 Z"/>
<path stroke="none" d="M356.2,309.7 L385.6,320.5 L358.4,305.0 Z"/>
<path stroke="none" d="M355.6,309.3 L381.2,329.9 L359.1,305.5 Z"/>
<path stroke="none" d="M354.9,306.6 L351.0,327.4 L359.8,308.2 Z"/>
<path stroke="none" d="M357.6,304.8 L322.3,303.9 L357.1,310.0 Z"/>
<path stroke="none" d="M343.9,316.3 L359.0,333.9 L348.3,313.4 Z"/>
<path stroke="none" d="M347.0,317.3 L367.7,307.4 L345.2,312.4 Z"/>
<path stroke="none" d="M344.9,317.2 L369.0,327.3 L347.3,312.6 Z"/>
<path stroke="none" d="M337.0,320.8 L322.5,305.2 L332.7,323.9 Z"/>
<path stroke="none" d="M337.3,321.4 L325.3,299.5 L332.5,323.4 Z"/>
<path stroke="none" d="M336.2,324.6 L352.5,311.5 L333.5,320.1 Z"/>
<path stroke="none" d="M323.5,327.3 L304.6,330.6 L323.7,332.5 Z"/>
<path stroke="none" d="M324.5,327.4 L304.6,323.0 L322.7,332.3 Z"/>
<path stroke="none" d="M326.2,330.4 L328.3,308.6 L321.1,329.3 Z"/>
<path stroke="none" d="M322.0,331.9 L336.5,340.2 L325.2,327.8 Z"/>
<path stroke="none" d="M314.0,337.5 L323.0,326.7 L310.7,333.5 Z"/>
<path stroke="none" d="M314.4,333.8 L300.7,321.2 L310.4,337.1 Z"/>
<path stroke="none" d="M295.3,339.8 L291.5,350.9 L299.5,342.4 Z"/>
<path stroke="none" d="M299.4,342.5 L305.3,329.4 L295.3,339.7 Z"/>
<path stroke="none" d="M280.7,346.8 L271.6,358.2 L284.0,350.4 Z"/>
<path stroke="none" d="M279.9,348.4 L281.5,361.7 L284.9,348.8 Z"/>
<path stroke="none" d="M281.0,350.6 L291.6,355.0 L283.8,346.6 Z"/>
<path stroke="none" d="M269.8,354.0 L257.8,364.5 L272.5,358.2 Z"/>
<path stroke="none" d="M268.9,357.1 L278.0,370.7 L273.4,355.0 Z"/>
<line x1="271.1" y1="356.1" x2="259.9" y2="344.9" stroke-width="6.8"/>
<line x1="259.9" y1="344.9" x2="252.4" y2="333.6" stroke-width="8.8"/>
<line x1="252.4" y1="333.6" x2="246.8" y2="318.6" stroke-width="7.8"/>
<line x1="246.8" y1="318.6" x2="244.9" y2="309.2" stroke-width="4.9"/>
<path stroke="none" d="M272.2,357.5 L279.4,349.8 L270.1,354.7 Z"/>
<path stroke="none" d="M257.8,345.2 L261.4,354.6 L262.0,344.5 Z"/>
<path stroke="none" d="M257.9,344.3 L257.4,354.8 L261.9,345.4 Z"/>
<path stroke="none" d="M260.8,346.8 L272.7,339.1 L259.0,342.9 Z"/>
<path stroke="none" d="M250.9,335.6 L264.5,342.7 L253.9,331.6 Z"/>
<path stroke="none" d="M251.2,335.7 L266.6,341.8 L253.6,331.5 Z"/>
<path stroke="none" d="M246.1,317.0 L238.0,322.3 L247.4,320.2 Z"/>
<path stroke="none" d="M247.1,320.3 L256.7,316.9 L246.5,316.9 Z"/>
<path stroke="none" d="M245.6,310.4 L252.2,305.1 L244.2,308.1 Z"/>
<line x1="334.9" y1="322.4" x2="340.5" y2="341.1" stroke-width="11.7"/>
<line x1="340.5" y1="341.1" x2="342.4" y2="356.1" stroke-width="11.7"/>
<line x1="342.4" y1="356.1" x2="336.7" y2="371.1" stroke-width="11.7"/>
<line x1="336.7" y1="371.1" x2="329.2" y2="374.8" stroke-width="8.8"/>
<path stroke="none" d="M336.1,324.6 L347.2,315.4 L333.6,320.1 Z"/>
<path stroke="none" d="M335.3,319.8 L322.1,320.0 L334.4,324.9 Z"/>
<path stroke="none" d="M339.9,338.6 L325.8,344.3 L341.0,343.6 Z"/>
<path stroke="none" d="M341.6,338.8 L326.7,334.2 L339.3,343.4 Z"/>
<path stroke="none" d="M343.1,341.0 L340.0,327.4 L337.9,341.2 Z"/>
<path stroke="none" d="M345.0,356.2 L343.2,340.0 L339.8,356.0 Z"/>
<path stroke="none" d="M339.3,370.7 L335.1,358.5 L334.2,371.4 Z"/>
<path stroke="none" d="M334.8,372.8 L345.5,380.8 L338.7,369.3 Z"/>
<path stroke="none" d="M330.4,373.6 L320.8,367.0 L328.1,376.1 Z"/>
<line x1="342.4" y1="356.1" x2="353.6" y2="350.5" stroke-width="5.8"/>
<line x1="353.6" y1="350.5" x2="363.0" y2="344.9" stroke-width="4.9"/>
<path stroke="none" d="M341.3,357.5 L350.7,362.6 L343.4,354.7 Z"/>
<path stroke="none" d="M341.0,355.0 L336.9,363.0 L343.7,357.2 Z"/>
<path stroke="none" d="M352.4,351.7 L361.7,358.3 L354.8,349.2 Z"/>
<path stroke="none" d="M354.5,349.0 L344.6,344.6 L352.7,351.9 Z"/>
<path stroke="none" d="M363.9,345.8 L369.7,338.0 L362.0,343.9 Z"/>
<path stroke="none" d="M361.8,344.2 L358.2,353.0 L364.1,345.5 Z"/>
<line x1="393.0" y1="258.6" x2="402.3" y2="277.4" stroke-width="10.7"/>
<line x1="402.3" y1="277.4" x2="406.1" y2="292.4" stroke-width="10.7"/>
<line x1="406.1" y1="292.4" x2="409.8" y2="307.4" stroke-width="7.8"/>
<path stroke="none" d="M391.7,256.5 L378.9,267.0 L394.2,260.8 Z"/>
<path stroke="none" d="M404.9,277.5 L403.1,260.5 L399.7,277.3 Z"/>
<path stroke="none" d="M399.9,276.4 L395.5,293.8 L404.7,278.4 Z"/>
<path stroke="none" d="M404.9,290.2 L392.4,299.8 L407.3,294.6 Z"/>
<path stroke="none" d="M404.0,291.1 L398.1,305.0 L408.2,293.7 Z"/>
<path stroke="none" d="M408.5,291.8 L402.6,278.5 L403.7,293.0 Z"/>
<path stroke="none" d="M408.4,308.3 L415.4,316.0 L411.3,306.4 Z"/>
<line x1="402.3" y1="288.6" x2="415.4" y2="292.4" stroke-width="4.4"/>
<path stroke="none" d="M403.8,288.8 L403.7,278.3 L400.8,288.4 Z"/>
<path stroke="none" d="M415.3,291.0 L407.7,293.4 L415.6,293.7 Z"/>
<line x1="368.6" y1="299.9" x2="379.8" y2="311.1" stroke-width="5.8"/>
<path stroke="none" d="M370.0,300.9 L374.3,292.3 L367.2,298.8 Z"/>
<path stroke="none" d="M370.0,298.9 L362.8,291.8 L367.2,300.9 Z"/>
<path stroke="none" d="M378.1,311.3 L381.1,320.6 L381.5,310.9 Z"/>
<line x1="439.8" y1="245.5" x2="449.2" y2="238.0" stroke-width="9.7"/>
<line x1="449.2" y1="238.0" x2="460.4" y2="230.5" stroke-width="14.6"/>
<line x1="460.4" y1="230.5" x2="471.7" y2="228.7" stroke-width="12.7"/>
<path stroke="none" d="M440.6,244.0 L430.1,240.1 L439.0,247.0 Z"/>
<path stroke="none" d="M439.1,243.9 L430.9,249.4 L440.5,247.1 Z"/>
<path stroke="none" d="M447.3,236.2 L436.8,250.8 L451.0,239.8 Z"/>
<path stroke="none" d="M448.3,235.6 L431.8,244.4 L450.1,240.5 Z"/>
<path stroke="none" d="M462.6,231.9 L468.8,217.4 L458.2,229.1 Z"/>
<path stroke="none" d="M458.8,232.6 L474.8,241.9 L462.0,228.5 Z"/>
<path stroke="none" d="M474.0,229.5 L476.1,215.9 L469.3,227.9 Z"/>
<path stroke="none" d="M471.3,231.1 L486.8,231.0 L472.0,226.2 Z"/>
<path stroke="none" d="M473.4,226.9 L460.6,217.8 L469.9,230.4 Z"/>
<line x1="436.1" y1="144.3" x2="447.3" y2="143.2" stroke-width="6.3"/>
<line x1="447.3" y1="143.2" x2="456.7" y2="140.6" stroke-width="6.8"/>
<path stroke="none" d="M437.6,144.0 L433.8,134.1 L434.6,144.7 Z"/>
<path stroke="none" d="M435.9,145.8 L446.5,145.7 L436.3,142.8 Z"/>
<path stroke="none" d="M445.3,143.8 L450.3,152.8 L449.3,142.6 Z"/>
<path stroke="none" d="M446.1,144.9 L456.5,149.9 L448.5,141.5 Z"/>
<line x1="454.8" y1="157.4" x2="466.0" y2="159.3" stroke-width="9.7"/>
<line x1="466.0" y1="159.3" x2="477.3" y2="161.2" stroke-width="13.6"/>
<line x1="477.3" y1="161.2" x2="486.7" y2="166.8" stroke-width="9.7"/>
<path stroke="none" d="M453.2,156.9 L451.4,168.0 L456.4,158.0 Z"/>
<path stroke="none" d="M453.3,158.3 L460.8,167.7 L456.3,156.6 Z"/>
<path stroke="none" d="M468.5,158.3 L460.5,145.6 L463.6,160.3 Z"/>
<path stroke="none" d="M465.3,156.8 L450.5,164.3 L466.8,161.8 Z"/>
<path stroke="none" d="M479.9,161.5 L479.3,142.7 L474.7,160.9 Z"/>
<path stroke="none" d="M479.7,160.1 L469.5,143.7 L474.9,162.3 Z"/>
<path stroke="none" d="M478.6,163.4 L494.1,151.6 L476.0,158.9 Z"/>
<path stroke="none" d="M488.1,165.9 L480.8,157.7 L485.2,167.7 Z"/>
<path stroke="none" d="M488.3,166.4 L484.4,157.0 L485.0,167.2 Z"/>
<line x1="458.5" y1="174.3" x2="462.3" y2="181.8" stroke-width="7.8"/>
<path stroke="none" d="M456.1,174.3 L458.5,189.0 L461.0,174.3 Z"/>
<path stroke="none" d="M456.2,175.2 L463.5,187.3 L460.9,173.4 Z"/>
<path stroke="none" d="M461.0,180.7 L456.4,188.5 L463.6,183.0 Z"/>
<path stroke="none" d="M461.0,180.7 L456.4,188.7 L463.6,182.9 Z"/>
<line x1="473.5" y1="176.2" x2="475.4" y2="187.4" stroke-width="4.9"/>
<path stroke="none" d="M473.5,177.7 L482.0,176.6 L473.6,174.6 Z"/>
<path stroke="none" d="M472.6,177.4 L479.9,181.1 L474.5,175.0 Z"/>
<path stroke="none" d="M475.8,188.9 L485.5,184.7 L475.0,185.9 Z"/>
<path stroke="none" d="M476.1,188.8 L482.8,183.6 L474.7,186.1 Z"/>
<line x1="544.8" y1="187.4" x2="556.0" y2="187.4" stroke-width="8.8"/>
<line x1="556.0" y1="187.4" x2="571.0" y2="186.7" stroke-width="11.7"/>
<line x1="571.0" y1="186.7" x2="584.1" y2="183.7" stroke-width="10.7"/>
<path stroke="none" d="M558.6,187.5 L556.7,172.2 L553.4,187.3 Z"/>
<path stroke="none" d="M555.2,184.9 L538.7,192.9 L556.8,189.9 Z"/>
<path stroke="none" d="M571.6,184.1 L558.2,183.7 L570.4,189.2 Z"/>
<path stroke="none" d="M570.0,184.3 L554.7,193.1 L571.9,189.1 Z"/>
<path stroke="none" d="M586.4,184.7 L588.7,173.4 L581.8,182.7 Z"/>
<path stroke="none" d="M581.7,184.1 L586.9,198.0 L586.5,183.2 Z"/>
<path stroke="none" d="M582.7,185.7 L596.5,192.0 L585.5,181.6 Z"/>
<line x1="574.7" y1="202.4" x2="582.2" y2="213.7" stroke-width="9.7"/>
<line x1="582.2" y1="213.7" x2="586.0" y2="224.9" stroke-width="11.7"/>
<line x1="586.0" y1="224.9" x2="580.4" y2="232.4" stroke-width="9.7"/>
<path stroke="none" d="M572.8,201.5 L568.9,214.7 L576.6,203.3 Z"/>
<path stroke="none" d="M572.8,201.7 L570.1,214.3 L576.7,203.2 Z"/>
<path stroke="none" d="M580.9,215.9 L596.4,221.8 L583.5,211.4 Z"/>
<path stroke="none" d="M584.2,212.0 L574.2,204.4 L580.3,215.4 Z"/>
<path stroke="none" d="M581.7,211.1 L567.5,216.5 L582.7,216.2 Z"/>
<path stroke="none" d="M585.2,222.4 L574.1,228.8 L586.8,227.4 Z"/>
<path stroke="none" d="M583.4,225.0 L586.5,238.9 L588.6,224.8 Z"/>
<path stroke="none" d="M581.2,234.3 L590.4,227.8 L579.5,230.5 Z"/>
<line x1="541.0" y1="232.4" x2="550.4" y2="239.9" stroke-width="4.9"/>
<line x1="550.4" y1="239.9" x2="561.6" y2="249.3" stroke-width="6.8"/>
<line x1="561.6" y1="249.3" x2="574.7" y2="253.0" stroke-width="8.8"/>
<line x1="574.7" y1="253.0" x2="586.0" y2="258.6" stroke-width="9.7"/>
<path stroke="none" d="M541.5,233.7 L548.2,229.8 L540.5,231.1 Z"/>
<path stroke="none" d="M539.7,232.8 L543.3,241.1 L542.3,232.1 Z"/>
<path stroke="none" d="M549.4,241.3 L559.8,246.6 L551.4,238.5 Z"/>
<path stroke="none" d="M552.0,239.2 L546.4,230.6 L548.8,240.6 Z"/>
<path stroke="none" d="M560.9,251.2 L571.7,253.1 L562.4,247.3 Z"/>
<path stroke="none" d="M559.5,249.1 L560.4,262.7 L563.7,249.5 Z"/>
<path stroke="none" d="M559.9,248.1 L554.8,259.1 L563.3,250.5 Z"/>
<path stroke="none" d="M575.8,250.8 L562.6,247.3 L573.7,255.3 Z"/>
<path stroke="none" d="M576.4,251.2 L564.9,244.3 L573.1,254.9 Z"/>
<path stroke="none" d="M572.9,254.7 L583.8,262.8 L576.6,251.3 Z"/>
<path stroke="none" d="M583.7,257.8 L581.5,270.8 L588.3,259.5 Z"/>
<path stroke="none" d="M587.3,256.6 L576.0,252.3 L584.7,260.7 Z"/>
<path stroke="none" d="M588.4,258.4 L584.9,247.6 L583.5,258.9 Z"/>
<line x1="563.5" y1="284.9" x2="569.1" y2="299.9" stroke-width="6.8"/>
<line x1="569.1" y1="299.9" x2="574.7" y2="314.9" stroke-width="10.7"/>
<line x1="574.7" y1="314.9" x2="582.2" y2="326.1" stroke-width="13.6"/>
<line x1="582.2" y1="326.1" x2="586.0" y2="341.1" stroke-width="10.7"/>
<path stroke="none" d="M564.5,286.3 L570.8,279.9 L562.5,283.5 Z"/>
<path stroke="none" d="M567.1,299.4 L566.4,312.3 L571.2,300.3 Z"/>
<path stroke="none" d="M572.5,316.2 L583.0,328.2 L576.9,313.5 Z"/>
<path stroke="none" d="M574.9,312.3 L554.9,313.6 L574.6,317.5 Z"/>
<path stroke="none" d="M576.5,313.0 L560.3,301.4 L573.0,316.8 Z"/>
<path stroke="none" d="M579.9,325.0 L574.6,342.5 L584.6,327.2 Z"/>
<path stroke="none" d="M584.5,339.7 L576.9,350.7 L587.5,342.5 Z"/>
<path stroke="none" d="M586.8,343.1 L596.7,336.9 L585.2,339.1 Z"/>
<path stroke="none" d="M586.0,343.2 L596.3,340.9 L585.9,339.0 Z"/>
<line x1="389.2" y1="335.5" x2="396.7" y2="344.9" stroke-width="11.7"/>
<line x1="396.7" y1="344.9" x2="406.1" y2="356.1" stroke-width="17.5"/>
<line x1="406.1" y1="356.1" x2="415.4" y2="367.3" stroke-width="18.5"/>
<line x1="415.4" y1="367.3" x2="419.2" y2="378.6" stroke-width="13.6"/>
<line x1="419.2" y1="378.6" x2="421.1" y2="389.8" stroke-width="7.8"/>
<line x1="421.1" y1="389.8" x2="424.8" y2="404.8" stroke-width="5.8"/>
<path stroke="none" d="M391.3,335.2 L387.5,323.8 L387.1,335.8 Z"/>
<path stroke="none" d="M387.3,336.5 L394.6,345.8 L391.1,334.5 Z"/>
<path stroke="none" d="M388.0,333.8 L380.3,341.8 L390.4,337.2 Z"/>
<path stroke="none" d="M395.7,342.4 L378.5,352.4 L397.7,347.3 Z"/>
<path stroke="none" d="M394.2,344.3 L393.4,359.0 L399.2,345.4 Z"/>
<path stroke="none" d="M398.9,343.4 L387.8,331.0 L394.5,346.3 Z"/>
<path stroke="none" d="M398.0,342.6 L380.3,335.7 L395.4,347.1 Z"/>
<path stroke="none" d="M408.6,356.6 L409.6,336.5 L403.5,355.6 Z"/>
<path stroke="none" d="M407.8,354.1 L392.1,344.3 L404.4,358.1 Z"/>
<path stroke="none" d="M405.3,358.6 L427.3,362.3 L406.8,353.6 Z"/>
<path stroke="none" d="M406.5,353.5 L389.3,353.3 L405.6,358.7 Z"/>
<path stroke="none" d="M418.0,368.0 L419.6,350.2 L412.9,366.7 Z"/>
<path stroke="none" d="M414.9,369.9 L431.7,370.7 L416.0,364.8 Z"/>
<path stroke="none" d="M416.9,377.6 L414.5,389.9 L421.5,379.5 Z"/>
<path stroke="none" d="M422.8,389.7 L420.3,378.1 L419.3,389.9 Z"/>
<path stroke="none" d="M422.8,390.2 L423.0,380.5 L419.4,389.5 Z"/>
<path stroke="none" d="M424.1,406.4 L433.3,408.5 L425.5,403.2 Z"/>
<line x1="389.2" y1="386.1" x2="402.3" y2="386.8" stroke-width="5.4"/>
<line x1="402.3" y1="386.8" x2="415.4" y2="384.2" stroke-width="4.9"/>
<path stroke="none" d="M389.1,384.4 L380.6,386.6 L389.3,387.8 Z"/>
<path stroke="none" d="M390.6,387.1 L395.9,376.8 L387.8,385.1 Z"/>
<path stroke="none" d="M403.9,386.7 L401.1,376.3 L400.8,387.0 Z"/>
<path stroke="none" d="M401.3,385.7 L395.1,393.3 L403.4,388.0 Z"/>
<path stroke="none" d="M415.1,385.7 L424.0,386.2 L415.8,382.7 Z"/>
<path stroke="none" d="M414.4,385.3 L421.5,389.9 L416.5,383.1 Z"/>
<line x1="424.8" y1="404.8" x2="432.3" y2="419.8" stroke-width="9.7"/>
<line x1="432.3" y1="419.8" x2="443.6" y2="431.1" stroke-width="12.7"/>
<line x1="443.6" y1="431.1" x2="458.5" y2="438.6" stroke-width="13.6"/>
<line x1="458.5" y1="438.6" x2="473.5" y2="434.8" stroke-width="12.7"/>
<line x1="473.5" y1="434.8" x2="482.9" y2="423.6" stroke-width="9.7"/>
<path stroke="none" d="M425.4,406.8 L436.3,401.6 L424.3,402.8 Z"/>
<path stroke="none" d="M426.9,404.7 L424.4,392.4 L422.7,404.9 Z"/>
<path stroke="none" d="M430.7,417.8 L421.3,428.6 L433.9,421.8 Z"/>
<path stroke="none" d="M434.4,421.4 L442.9,406.1 L430.3,418.2 Z"/>
<path stroke="none" d="M430.2,421.3 L439.4,429.5 L434.4,418.3 Z"/>
<path stroke="none" d="M441.0,431.4 L445.4,444.1 L446.1,430.7 Z"/>
<path stroke="none" d="M441.0,431.4 L445.5,445.7 L446.1,430.7 Z"/>
<path stroke="none" d="M444.9,428.8 L430.3,423.3 L442.2,433.3 Z"/>
<path stroke="none" d="M456.0,439.3 L464.0,458.2 L461.0,437.9 Z"/>
<path stroke="none" d="M461.0,437.8 L453.3,420.4 L456.0,439.3 Z"/>
<path stroke="none" d="M475.4,436.6 L484.8,423.1 L471.7,433.0 Z"/>
<path stroke="none" d="M472.3,437.1 L485.2,441.1 L474.8,432.5 Z"/>
<path stroke="none" d="M474.3,432.3 L461.4,431.3 L472.8,437.3 Z"/>
<path stroke="none" d="M481.2,422.4 L476.1,433.3 L484.6,424.8 Z"/>
<path stroke="none" d="M484.7,424.7 L488.8,414.1 L481.1,422.4 Z"/>
<path stroke="none" d="M484.2,421.9 L472.9,415.8 L481.6,425.2 Z"/>
<line x1="428.6" y1="438.6" x2="439.8" y2="447.9" stroke-width="9.7"/>
<line x1="439.8" y1="447.9" x2="451.0" y2="451.7" stroke-width="8.8"/>
<path stroke="none" d="M426.1,438.1 L426.1,451.8 L431.0,439.0 Z"/>
<path stroke="none" d="M430.5,437.0 L421.4,429.4 L426.6,440.1 Z"/>
<path stroke="none" d="M429.5,436.3 L417.4,434.1 L427.6,440.9 Z"/>
<path stroke="none" d="M439.5,450.4 L453.4,449.7 L440.1,445.5 Z"/>
<path stroke="none" d="M439.3,450.4 L452.0,450.3 L440.3,445.5 Z"/>
<path stroke="none" d="M452.2,453.4 L459.6,446.2 L449.9,449.9 Z"/>
<path stroke="none" d="M453.0,451.0 L446.8,439.9 L449.1,452.4 Z"/>
<line x1="452.9" y1="404.8" x2="456.7" y2="419.8" stroke-width="6.8"/>
<path stroke="none" d="M458.0,421.5 L465.9,412.6 L455.4,418.2 Z"/>
<path stroke="none" d="M456.4,417.7 L444.8,421.3 L456.9,421.9 Z"/>
<line x1="520.4" y1="410.4" x2="533.5" y2="416.1" stroke-width="8.8"/>
<line x1="533.5" y1="416.1" x2="548.5" y2="419.8" stroke-width="12.7"/>
<line x1="548.5" y1="419.8" x2="563.5" y2="419.8" stroke-width="12.7"/>
<line x1="563.5" y1="419.8" x2="574.7" y2="427.3" stroke-width="10.7"/>
<line x1="574.7" y1="427.3" x2="584.1" y2="440.4" stroke-width="8.8"/>
<path stroke="none" d="M522.1,410.1 L518.5,400.4 L518.7,410.8 Z"/>
<path stroke="none" d="M522.1,410.7 L521.9,398.7 L518.7,410.2 Z"/>
<path stroke="none" d="M532.8,418.6 L548.3,420.3 L534.2,413.6 Z"/>
<path stroke="none" d="M531.2,414.8 L525.4,430.6 L535.8,417.3 Z"/>
<path stroke="none" d="M535.2,414.1 L521.5,405.3 L531.8,418.0 Z"/>
<path stroke="none" d="M549.7,422.1 L565.2,411.4 L547.3,417.5 Z"/>
<path stroke="none" d="M551.0,419.1 L544.3,405.5 L546.0,420.6 Z"/>
<path stroke="none" d="M550.3,417.9 L538.6,410.5 L546.7,421.7 Z"/>
<path stroke="none" d="M560.9,420.2 L565.7,435.0 L566.1,419.4 Z"/>
<path stroke="none" d="M566.1,419.4 L560.5,402.9 L560.9,420.3 Z"/>
<path stroke="none" d="M564.5,422.2 L577.4,414.3 L562.5,417.4 Z"/>
<path stroke="none" d="M574.9,429.8 L587.4,426.6 L574.6,424.8 Z"/>
<path stroke="none" d="M575.4,429.7 L585.7,424.2 L574.1,424.9 Z"/>
<path stroke="none" d="M576.8,425.9 L566.7,416.0 L572.7,428.7 Z"/>
<path stroke="none" d="M585.7,441.8 L590.7,432.4 L582.5,439.1 Z"/>
<path stroke="none" d="M585.5,438.9 L574.5,431.9 L582.7,442.0 Z"/>
<path stroke="none" d="M586.1,441.1 L588.5,427.7 L582.1,439.7 Z"/>
<line x1="578.5" y1="374.8" x2="586.0" y2="386.1" stroke-width="6.8"/>
<path stroke="none" d="M579.4,376.3 L588.6,368.7 L577.6,373.4 Z"/>
<path stroke="none" d="M584.2,385.0 L579.4,397.5 L587.8,387.1 Z"/>
<path stroke="none" d="M587.8,385.0 L579.7,375.1 L584.2,387.1 Z"/>
<path stroke="none" d="M588.0,385.6 L582.8,372.3 L583.9,386.5 Z"/>
<line x1="582.2" y1="404.8" x2="584.1" y2="419.8" stroke-width="5.8"/>
<path stroke="none" d="M582.2,403.1 L571.4,405.3 L582.3,406.5 Z"/>
<path stroke="none" d="M581.7,406.5 L593.5,408.4 L582.8,403.2 Z"/>
<path stroke="none" d="M584.1,418.1 L575.3,419.8 L584.1,421.5 Z"/>
<line x1="68.7" y1="314.9" x2="76.2" y2="329.9" stroke-width="14.6"/>
<line x1="76.2" y1="329.9" x2="81.9" y2="344.9" stroke-width="20.5"/>
<line x1="81.9" y1="344.9" x2="80.0" y2="359.8" stroke-width="19.5"/>
<line x1="80.0" y1="359.8" x2="74.4" y2="374.8" stroke-width="15.6"/>
<line x1="74.4" y1="374.8" x2="68.7" y2="384.2" stroke-width="10.7"/>
<path stroke="none" d="M66.3,314.4 L66.6,327.2 L71.2,315.3 Z"/>
<path stroke="none" d="M66.3,315.0 L69.5,329.5 L71.2,314.7 Z"/>
<path stroke="none" d="M70.2,316.8 L79.5,306.7 L67.2,312.9 Z"/>
<path stroke="none" d="M73.6,329.7 L75.1,350.4 L78.8,330.0 Z"/>
<path stroke="none" d="M84.4,345.2 L85.2,315.8 L79.3,344.6 Z"/>
<path stroke="none" d="M79.3,344.9 L81.9,366.1 L84.5,344.8 Z"/>
<path stroke="none" d="M81.5,342.3 L63.0,347.4 L82.2,347.4 Z"/>
<path stroke="none" d="M79.3,344.5 L79.6,364.1 L84.4,345.2 Z"/>
<path stroke="none" d="M78.4,361.9 L95.6,372.0 L81.6,357.8 Z"/>
<path stroke="none" d="M80.7,357.3 L56.6,353.4 L79.3,362.3 Z"/>
<path stroke="none" d="M80.8,362.3 L94.9,354.6 L79.1,357.4 Z"/>
<path stroke="none" d="M78.8,357.5 L66.3,366.9 L81.2,362.2 Z"/>
<path stroke="none" d="M74.5,377.4 L93.1,373.5 L74.2,372.2 Z"/>
<path stroke="none" d="M76.8,375.8 L79.3,362.6 L72.0,373.9 Z"/>
<path stroke="none" d="M73.8,372.3 L54.6,379.2 L74.9,377.4 Z"/>
<path stroke="none" d="M67.0,385.4 L77.1,395.7 L70.4,383.0 Z"/>
<path stroke="none" d="M66.8,383.5 L65.3,393.7 L70.7,384.9 Z"/>
<path stroke="none" d="M69.0,382.1 L57.1,382.7 L68.5,386.3 Z"/>
<line x1="80.0" y1="253.0" x2="87.5" y2="266.1" stroke-width="8.8"/>
<line x1="87.5" y1="266.1" x2="95.0" y2="277.4" stroke-width="11.7"/>
<line x1="95.0" y1="277.4" x2="106.2" y2="281.1" stroke-width="9.7"/>
<line x1="106.2" y1="281.1" x2="121.2" y2="281.1" stroke-width="7.8"/>
<line x1="121.2" y1="281.1" x2="134.3" y2="273.6" stroke-width="9.7"/>
<line x1="134.3" y1="273.6" x2="140.0" y2="268.0" stroke-width="8.8"/>
<path stroke="none" d="M80.5,254.7 L89.7,249.7 L79.4,251.4 Z"/>
<path stroke="none" d="M81.7,253.3 L81.6,243.7 L78.3,252.7 Z"/>
<path stroke="none" d="M85.9,268.2 L98.3,274.4 L89.1,264.1 Z"/>
<path stroke="none" d="M89.3,264.3 L76.2,255.4 L85.7,268.0 Z"/>
<path stroke="none" d="M89.8,264.9 L80.2,252.4 L85.2,267.4 Z"/>
<path stroke="none" d="M92.9,278.9 L102.3,287.1 L97.1,275.8 Z"/>
<path stroke="none" d="M94.8,280.0 L111.5,278.4 L95.1,274.8 Z"/>
<path stroke="none" d="M104.1,281.3 L107.4,292.2 L108.3,280.9 Z"/>
<path stroke="none" d="M104.2,281.7 L109.6,294.3 L108.3,280.6 Z"/>
<path stroke="none" d="M105.3,283.0 L115.4,285.4 L107.1,279.2 Z"/>
<path stroke="none" d="M122.2,279.3 L111.5,275.9 L120.2,283.0 Z"/>
<path stroke="none" d="M120.6,283.1 L134.4,285.0 L121.8,279.1 Z"/>
<path stroke="none" d="M123.0,280.1 L116.1,272.6 L119.4,282.2 Z"/>
<path stroke="none" d="M136.6,275.0 L142.6,260.0 L132.1,272.3 Z"/>
<path stroke="none" d="M138.4,268.7 L144.2,277.2 L141.5,267.3 Z"/>
<line x1="89.4" y1="284.9" x2="87.5" y2="296.1" stroke-width="6.3"/>
<path stroke="none" d="M90.6,286.6 L99.1,277.9 L88.1,283.2 Z"/>
<path stroke="none" d="M87.8,286.3 L98.7,295.3 L90.9,283.5 Z"/>
<path stroke="none" d="M89.1,282.8 L75.7,286.4 L89.6,287.0 Z"/>
<path stroke="none" d="M87.7,297.6 L96.4,295.0 L87.3,294.6 Z"/>
<path stroke="none" d="M88.8,296.9 L93.0,287.0 L86.2,295.3 Z"/>
<line x1="68.7" y1="236.2" x2="81.9" y2="230.5" stroke-width="6.8"/>
<line x1="81.9" y1="230.5" x2="95.0" y2="224.9" stroke-width="8.8"/>
<line x1="95.0" y1="224.9" x2="104.3" y2="220.4" stroke-width="7.8"/>
<path stroke="none" d="M68.0,237.7 L77.3,240.4 L69.5,234.6 Z"/>
<path stroke="none" d="M69.7,237.6 L77.9,230.2 L67.8,234.7 Z"/>
<path stroke="none" d="M80.1,229.4 L75.9,239.2 L83.6,231.7 Z"/>
<path stroke="none" d="M93.2,223.2 L86.4,233.8 L96.8,226.6 Z"/>
<path stroke="none" d="M95.8,227.2 L108.4,220.3 L94.2,222.6 Z"/>
<path stroke="none" d="M96.0,227.2 L105.0,220.4 L94.0,222.7 Z"/>
<path stroke="none" d="M103.4,221.8 L112.0,225.6 L105.3,219.0 Z"/>
<path stroke="none" d="M106.1,220.4 L104.5,209.7 L102.6,220.4 Z"/>
<line x1="106.2" y1="404.8" x2="106.2" y2="417.9" stroke-width="10.7"/>
<line x1="106.2" y1="417.9" x2="98.7" y2="431.1" stroke-width="9.7"/>
<line x1="98.7" y1="431.1" x2="89.4" y2="444.2" stroke-width="6.3"/>
<path stroke="none" d="M108.7,404.4 L103.9,391.7 L103.8,405.3 Z"/>
<path stroke="none" d="M107.0,420.4 L119.9,413.5 L105.4,415.5 Z"/>
<path stroke="none" d="M96.7,430.7 L96.3,444.1 L100.8,431.4 Z"/>
<path stroke="none" d="M96.9,432.1 L105.3,443.1 L100.6,430.1 Z"/>
<path stroke="none" d="M98.1,433.1 L110.0,434.5 L99.3,429.0 Z"/>
<path stroke="none" d="M88.2,443.2 L83.7,451.1 L90.5,445.1 Z"/>
<line x1="177.4" y1="393.6" x2="171.8" y2="404.8" stroke-width="6.3"/>
<line x1="171.8" y1="404.8" x2="164.3" y2="414.2" stroke-width="9.7"/>
<line x1="164.3" y1="414.2" x2="158.7" y2="416.1" stroke-width="8.8"/>
<path stroke="none" d="M178.4,392.4 L170.0,387.7 L176.5,394.8 Z"/>
<path stroke="none" d="M178.8,392.9 L173.5,385.1 L176.0,394.2 Z"/>
<path stroke="none" d="M171.0,402.9 L159.5,409.8 L172.6,406.8 Z"/>
<path stroke="none" d="M173.3,403.3 L162.9,396.2 L170.4,406.3 Z"/>
<path stroke="none" d="M173.9,404.3 L169.3,394.5 L169.8,405.3 Z"/>
<path stroke="none" d="M162.2,415.6 L171.0,424.3 L166.5,412.8 Z"/>
<path stroke="none" d="M162.0,413.0 L157.8,426.3 L166.6,415.4 Z"/>
<path stroke="none" d="M157.4,415.0 L152.4,423.9 L160.0,417.1 Z"/>
<line x1="169.9" y1="416.1" x2="175.6" y2="427.3" stroke-width="5.8"/>
<path stroke="none" d="M170.9,417.5 L179.1,410.0 L169.0,414.6 Z"/>
<path stroke="none" d="M174.0,428.0 L179.8,437.0 L177.1,426.6 Z"/>
<path stroke="none" d="M173.9,426.9 L172.9,438.6 L177.2,427.7 Z"/>
<line x1="196.2" y1="395.4" x2="207.4" y2="402.9" stroke-width="8.8"/>
<line x1="207.4" y1="402.9" x2="218.7" y2="408.6" stroke-width="12.7"/>
<line x1="218.7" y1="408.6" x2="229.9" y2="414.2" stroke-width="12.7"/>
<line x1="229.9" y1="414.2" x2="237.4" y2="416.1" stroke-width="8.8"/>
<path stroke="none" d="M197.8,395.0 L193.9,386.6 L194.5,395.9 Z"/>
<path stroke="none" d="M194.5,395.0 L193.7,405.9 L197.9,395.9 Z"/>
<path stroke="none" d="M205.1,401.8 L201.4,415.3 L209.8,404.1 Z"/>
<path stroke="none" d="M207.8,405.5 L223.7,400.7 L207.1,400.4 Z"/>
<path stroke="none" d="M208.4,400.5 L192.2,396.7 L206.4,405.4 Z"/>
<path stroke="none" d="M217.5,410.9 L231.1,415.0 L219.9,406.3 Z"/>
<path stroke="none" d="M220.2,406.5 L201.7,396.5 L217.2,410.7 Z"/>
<path stroke="none" d="M220.7,410.1 L231.3,391.9 L216.6,407.0 Z"/>
<path stroke="none" d="M228.7,411.9 L216.5,421.4 L231.1,416.5 Z"/>
<path stroke="none" d="M232.5,414.4 L230.9,398.3 L227.3,414.0 Z"/>
<path stroke="none" d="M237.7,414.4 L226.4,414.2 L237.1,417.8 Z"/>
<path stroke="none" d="M238.3,414.6 L228.4,410.5 L236.5,417.5 Z"/>
<line x1="224.3" y1="419.8" x2="228.0" y2="431.1" stroke-width="5.4"/>
<path stroke="none" d="M226.8,430.2 L223.1,437.9 L229.3,432.0 Z"/>
<path stroke="none" d="M229.6,431.0 L227.9,420.9 L226.5,431.1 Z"/>
<line x1="276.8" y1="404.8" x2="282.4" y2="414.2" stroke-width="6.3"/>
<line x1="282.4" y1="414.2" x2="286.1" y2="427.3" stroke-width="7.8"/>
<line x1="286.1" y1="427.3" x2="289.9" y2="438.6" stroke-width="5.8"/>
<path stroke="none" d="M275.6,405.9 L283.7,412.3 L277.9,403.8 Z"/>
<path stroke="none" d="M284.4,413.5 L278.8,403.8 L280.4,414.9 Z"/>
<path stroke="none" d="M284.4,414.7 L285.5,402.2 L280.4,413.7 Z"/>
<path stroke="none" d="M284.1,427.6 L287.9,440.2 L288.2,427.0 Z"/>
<path stroke="none" d="M287.1,425.5 L276.4,421.9 L285.1,429.1 Z"/>
<path stroke="none" d="M290.7,437.5 L282.4,432.6 L289.0,439.6 Z"/>
<path stroke="none" d="M289.9,437.2 L280.9,438.6 L289.9,439.9 Z"/>
<line x1="269.3" y1="427.3" x2="265.5" y2="449.8" stroke-width="3.4"/>
<path stroke="none" d="M268.6,426.3 L263.1,431.3 L269.9,428.3 Z"/>
<path stroke="none" d="M268.5,426.4 L264.0,431.9 L270.0,428.2 Z"/>
<path stroke="none" d="M266.8,449.3 L262.0,441.5 L264.3,450.3 Z"/>
<line x1="304.9" y1="444.2" x2="319.9" y2="440.4" stroke-width="8.8"/>
<line x1="319.9" y1="440.4" x2="334.9" y2="438.6" stroke-width="10.7"/>
<line x1="334.9" y1="438.6" x2="349.9" y2="437.8" stroke-width="11.7"/>
<line x1="349.9" y1="437.8" x2="364.8" y2="440.4" stroke-width="11.7"/>
<line x1="364.8" y1="440.4" x2="379.8" y2="446.0" stroke-width="10.7"/>
<line x1="379.8" y1="446.0" x2="393.0" y2="451.7" stroke-width="8.8"/>
<path stroke="none" d="M306.8,445.0 L309.4,433.9 L303.0,443.3 Z"/>
<path stroke="none" d="M307.0,444.2 L305.0,431.4 L302.8,444.2 Z"/>
<path stroke="none" d="M306.2,445.8 L312.4,437.9 L303.5,442.6 Z"/>
<path stroke="none" d="M321.8,442.0 L329.8,428.1 L317.9,438.9 Z"/>
<path stroke="none" d="M320.4,438.0 L304.1,437.1 L319.4,442.8 Z"/>
<path stroke="none" d="M337.1,437.2 L326.5,424.5 L332.6,439.9 Z"/>
<path stroke="none" d="M332.7,437.2 L327.1,450.9 L337.1,439.9 Z"/>
<path stroke="none" d="M348.7,440.2 L365.9,445.4 L351.0,435.5 Z"/>
<path stroke="none" d="M364.8,437.8 L347.8,440.6 L364.9,443.0 Z"/>
<path stroke="none" d="M362.2,440.5 L365.5,454.9 L367.4,440.3 Z"/>
<path stroke="none" d="M362.4,441.4 L371.3,457.3 L367.3,439.5 Z"/>
<path stroke="none" d="M382.1,445.0 L374.6,434.8 L377.6,447.1 Z"/>
<path stroke="none" d="M381.2,448.1 L391.6,438.1 L378.4,444.0 Z"/>
<path stroke="none" d="M393.5,453.7 L404.9,448.3 L392.4,449.7 Z"/>
<line x1="66.9" y1="138.7" x2="80.0" y2="135.0" stroke-width="5.8"/>
<line x1="80.0" y1="135.0" x2="91.2" y2="135.0" stroke-width="6.8"/>
<line x1="91.2" y1="135.0" x2="100.6" y2="136.8" stroke-width="4.4"/>
<path stroke="none" d="M66.5,140.0 L74.0,140.9 L67.3,137.4 Z"/>
<path stroke="none" d="M65.5,138.6 L66.5,147.3 L68.2,138.8 Z"/>
<path stroke="none" d="M81.9,134.0 L75.0,125.0 L78.1,135.9 Z"/>
<path stroke="none" d="M80.3,132.9 L66.9,132.7 L79.6,137.0 Z"/>
<path stroke="none" d="M92.5,133.8 L84.4,126.9 L89.9,136.1 Z"/>
<path stroke="none" d="M90.2,136.4 L98.6,140.1 L92.2,133.5 Z"/>
<path stroke="none" d="M101.6,137.4 L104.1,130.8 L99.6,136.2 Z"/>
<path stroke="none" d="M101.3,135.9 L94.1,131.5 L99.9,137.7 Z"/>
<line x1="110.0" y1="179.9" x2="114.5" y2="174.3" stroke-width="4.4"/>
<line x1="114.5" y1="174.3" x2="119.3" y2="168.7" stroke-width="4.4"/>
<path stroke="none" d="M109.2,179.1 L104.9,184.9 L110.8,180.8 Z"/>
<path stroke="none" d="M111.1,179.6 L108.1,172.4 L108.8,180.2 Z"/>
<path stroke="none" d="M113.2,173.2 L106.7,183.2 L115.8,175.4 Z"/>
<path stroke="none" d="M112.8,174.7 L117.4,185.9 L116.1,173.9 Z"/>
<path stroke="none" d="M118.3,169.2 L122.6,175.2 L120.4,168.2 Z"/>
<path stroke="none" d="M118.6,167.8 L113.5,173.7 L120.1,169.6 Z"/>
<line x1="153.1" y1="299.9" x2="159.4" y2="294.3" stroke-width="4.4"/>
<line x1="159.4" y1="294.3" x2="166.2" y2="288.6" stroke-width="4.4"/>
<path stroke="none" d="M151.9,299.7 L151.9,307.7 L154.2,300.0 Z"/>
<path stroke="none" d="M158.7,292.7 L149.0,299.4 L160.2,295.8 Z"/>
<path stroke="none" d="M165.0,288.5 L165.6,296.1 L167.4,288.7 Z"/>
<line x1="133.2" y1="307.4" x2="134.3" y2="318.6" stroke-width="3.4"/>
<line x1="134.3" y1="318.6" x2="135.5" y2="331.7" stroke-width="3.4"/>
<path stroke="none" d="M133.3,308.3 L139.9,306.6 L133.1,306.4 Z"/>
<path stroke="none" d="M134.6,320.1 L144.2,317.1 L134.1,317.1 Z"/>
<path stroke="none" d="M134.6,332.2 L138.8,337.5 L136.3,331.2 Z"/>
<path stroke="none" d="M134.6,332.2 L139.1,337.9 L136.3,331.2 Z"/>
<line x1="154.9" y1="329.9" x2="158.7" y2="334.4" stroke-width="6.3"/>
<path stroke="none" d="M153.3,329.4 L152.5,339.0 L156.6,330.3 Z"/>
<path stroke="none" d="M157.8,336.1 L168.7,339.5 L159.6,332.7 Z"/>
<line x1="181.2" y1="303.6" x2="190.6" y2="294.3" stroke-width="5.8"/>
<line x1="190.6" y1="294.3" x2="199.9" y2="286.8" stroke-width="5.8"/>
<path stroke="none" d="M182.5,303.8 L182.3,295.6 L179.8,303.4 Z"/>
<path stroke="none" d="M181.6,304.9 L190.2,300.4 L180.7,302.3 Z"/>
<path stroke="none" d="M190.2,292.2 L177.0,296.7 L190.9,296.3 Z"/>
<path stroke="none" d="M191.1,292.2 L180.0,291.5 L190.0,296.3 Z"/>
<path stroke="none" d="M198.9,285.8 L193.5,293.8 L200.9,287.7 Z"/>
<path stroke="none" d="M199.3,285.5 L193.1,290.0 L200.5,288.0 Z"/>
<line x1="201.8" y1="316.7" x2="205.5" y2="320.5" stroke-width="6.3"/>
<path stroke="none" d="M200.9,315.2 L193.2,321.6 L202.7,318.2 Z"/>
<path stroke="none" d="M201.7,318.5 L212.0,317.1 L201.9,315.0 Z"/>
<path stroke="none" d="M206.1,322.3 L216.9,317.0 L205.0,318.7 Z"/>
<path stroke="none" d="M206.7,319.0 L195.1,312.6 L204.4,322.0 Z"/>
<line x1="110.0" y1="388.0" x2="117.5" y2="378.6" stroke-width="3.9"/>
<line x1="117.5" y1="378.6" x2="123.1" y2="371.1" stroke-width="3.9"/>
<path stroke="none" d="M109.7,386.8 L102.4,389.9 L110.3,389.1 Z"/>
<path stroke="none" d="M110.3,386.9 L102.4,385.4 L109.6,389.1 Z"/>
<path stroke="none" d="M118.8,377.8 L112.6,370.5 L116.1,379.4 Z"/>
<path stroke="none" d="M117.5,380.1 L128.3,378.6 L117.5,377.0 Z"/>
<path stroke="none" d="M122.8,372.2 L129.9,373.0 L123.4,370.0 Z"/>
<path stroke="none" d="M124.1,371.6 L126.7,364.1 L122.1,370.5 Z"/>
<line x1="140.0" y1="384.2" x2="143.7" y2="388.0" stroke-width="6.3"/>
<path stroke="none" d="M138.9,385.6 L147.6,389.8 L141.0,382.8 Z"/>
<path stroke="none" d="M141.9,388.6 L147.1,397.2 L145.5,387.3 Z"/>
<line x1="451.0" y1="138.0" x2="454.8" y2="139.5" stroke-width="4.9"/>
<path stroke="none" d="M449.9,139.0 L458.1,145.6 L452.2,136.9 Z"/>
<path stroke="none" d="M452.1,139.1 L458.3,130.9 L450.0,136.8 Z"/>
<path stroke="none" d="M453.3,139.3 L453.8,148.6 L456.3,139.6 Z"/>
<path stroke="none" d="M453.8,138.3 L446.5,146.1 L455.8,140.6 Z"/>
<line x1="526.0" y1="135.0" x2="537.3" y2="135.0" stroke-width="5.8"/>
<line x1="537.3" y1="135.0" x2="550.4" y2="133.1" stroke-width="5.8"/>
<path stroke="none" d="M527.3,135.4 L528.7,126.5 L524.7,134.5 Z"/>
<path stroke="none" d="M539.3,135.5 L539.9,124.5 L535.2,134.4 Z"/>
<path stroke="none" d="M550.0,131.8 L542.2,135.2 L550.7,134.4 Z"/>
<path stroke="none" d="M551.2,132.0 L544.1,128.0 L549.5,134.1 Z"/>
<line x1="520.4" y1="185.6" x2="524.1" y2="189.3" stroke-width="6.8"/>
<path stroke="none" d="M520.5,183.6 L510.6,185.1 L520.3,187.5 Z"/>
<path stroke="none" d="M519.6,187.3 L531.2,190.2 L521.1,183.8 Z"/>
<path stroke="none" d="M525.3,190.8 L533.4,182.5 L523.0,187.8 Z"/>
<path stroke="none" d="M524.8,187.5 L513.6,185.1 L523.4,191.1 Z"/>
<line x1="514.8" y1="209.9" x2="514.8" y2="217.4" stroke-width="2.9"/>
<line x1="514.8" y1="217.4" x2="514.8" y2="226.8" stroke-width="2.9"/>
<path stroke="none" d="M514.8,208.9 L508.2,210.0 L514.8,210.9 Z"/>
<path stroke="none" d="M515.9,218.1 L519.4,209.8 L513.6,216.7 Z"/>
<path stroke="none" d="M513.4,217.5 L515.4,226.3 L516.1,217.3 Z"/>
<path stroke="none" d="M513.8,226.5 L512.7,233.4 L515.7,227.1 Z"/>
<path stroke="none" d="M515.5,226.1 L509.6,221.5 L514.1,227.5 Z"/>
<line x1="481.0" y1="281.1" x2="492.3" y2="269.9" stroke-width="5.8"/>
<line x1="492.3" y1="269.9" x2="494.2" y2="258.6" stroke-width="5.4"/>
<path stroke="none" d="M481.4,279.8 L472.5,279.1 L480.7,282.4 Z"/>
<path stroke="none" d="M479.7,281.2 L481.4,289.2 L482.4,281.1 Z"/>
<path stroke="none" d="M490.6,271.2 L500.1,280.0 L493.9,268.6 Z"/>
<path stroke="none" d="M492.2,267.8 L480.5,270.5 L492.4,272.0 Z"/>
<path stroke="none" d="M493.9,259.8 L501.1,260.4 L494.4,257.5 Z"/>
<line x1="492.3" y1="269.9" x2="503.5" y2="288.6" stroke-width="3.9"/>
<path stroke="none" d="M491.3,269.0 L486.8,275.6 L493.3,270.8 Z"/>
<path stroke="none" d="M492.4,271.2 L500.2,269.0 L492.1,268.5 Z"/>
<path stroke="none" d="M502.7,287.6 L495.8,294.5 L504.3,289.7 Z"/>
<path stroke="none" d="M504.4,289.7 L510.6,283.1 L502.7,287.6 Z"/>
<line x1="439.8" y1="294.3" x2="451.0" y2="299.9" stroke-width="7.8"/>
<line x1="451.0" y1="299.9" x2="462.3" y2="303.6" stroke-width="6.8"/>
<line x1="462.3" y1="303.6" x2="475.4" y2="303.6" stroke-width="4.9"/>
<path stroke="none" d="M441.8,293.7 L436.9,284.2 L437.8,294.8 Z"/>
<path stroke="none" d="M452.0,301.7 L462.3,294.0 L450.1,298.0 Z"/>
<path stroke="none" d="M451.2,302.0 L464.3,298.9 L450.9,297.8 Z"/>
<path stroke="none" d="M461.7,302.0 L452.3,307.6 L462.9,305.2 Z"/>
<path stroke="none" d="M462.3,301.9 L453.4,303.6 L462.3,305.3 Z"/>
<path stroke="none" d="M476.7,303.3 L473.0,294.3 L474.1,304.0 Z"/>
<line x1="432.3" y1="320.5" x2="443.6" y2="322.4" stroke-width="6.8"/>
<path stroke="none" d="M431.4,318.6 L421.7,325.6 L433.2,322.4 Z"/>
<path stroke="none" d="M445.2,322.7 L445.7,311.5 L441.9,322.0 Z"/>
<line x1="484.8" y1="326.1" x2="496.0" y2="328.0" stroke-width="4.9"/>
<path stroke="none" d="M484.7,324.4 L474.8,326.7 L484.9,327.8 Z"/>
<path stroke="none" d="M483.2,325.3 L480.1,335.2 L486.3,326.9 Z"/>
<path stroke="none" d="M497.3,328.4 L498.5,320.6 L494.7,327.6 Z"/>
<path stroke="none" d="M497.2,328.6 L499.5,320.5 L494.8,327.4 Z"/>
<line x1="511.0" y1="359.8" x2="522.3" y2="359.8" stroke-width="6.3"/>
<line x1="522.3" y1="359.8" x2="537.3" y2="358.0" stroke-width="6.3"/>
<path stroke="none" d="M511.6,361.3 L518.7,356.8 L510.5,358.4 Z"/>
<path stroke="none" d="M510.0,358.7 L504.2,366.2 L512.1,361.0 Z"/>
<path stroke="none" d="M523.9,361.2 L530.3,350.1 L520.6,358.5 Z"/>
<path stroke="none" d="M520.2,359.9 L522.4,373.2 L524.4,359.8 Z"/>
<path stroke="none" d="M520.4,360.7 L527.8,372.0 L524.2,359.0 Z"/>
<path stroke="none" d="M535.7,358.2 L538.9,368.4 L538.8,357.7 Z"/>
<path stroke="none" d="M538.6,357.3 L532.3,348.4 L535.9,358.7 Z"/>
<line x1="447.3" y1="382.3" x2="452.9" y2="378.6" stroke-width="4.9"/>
<path stroke="none" d="M447.8,380.7 L437.2,379.5 L446.8,384.0 Z"/>
<path stroke="none" d="M447.7,380.6 L435.7,379.8 L446.9,384.0 Z"/>
<path stroke="none" d="M451.6,378.5 L452.1,387.6 L454.3,378.7 Z"/>
<path stroke="none" d="M451.9,377.7 L446.8,385.2 L453.9,379.5 Z"/>
<line x1="379.1" y1="410.4" x2="379.8" y2="419.8" stroke-width="3.4"/>
<path stroke="none" d="M380.0,410.6 L380.4,403.8 L378.1,410.3 Z"/>
<path stroke="none" d="M378.2,410.2 L377.2,416.7 L380.0,410.7 Z"/>
<path stroke="none" d="M378.7,420.9 L387.2,427.3 L380.9,418.7 Z"/>
<path stroke="none" d="M379.1,418.5 L372.3,424.2 L380.6,421.1 Z"/>
<line x1="400.4" y1="93.7" x2="404.2" y2="97.5" stroke-width="4.9"/>
<path stroke="none" d="M401.7,94.6 L405.6,86.7 L399.2,92.8 Z"/>
<path stroke="none" d="M400.4,92.2 L392.0,93.9 L400.5,95.3 Z"/>
<path stroke="none" d="M403.1,98.6 L410.4,103.2 L405.2,96.3 Z"/>
<line x1="430.4" y1="186.7" x2="434.2" y2="188.9" stroke-width="5.8"/>
<path stroke="none" d="M428.8,186.1 L426.8,197.8 L432.1,187.2 Z"/>
<path stroke="none" d="M431.9,185.8 L425.8,178.3 L428.9,187.5 Z"/>
<path stroke="none" d="M432.7,188.0 L428.1,198.7 L435.6,189.8 Z"/>
<path stroke="none" d="M435.8,188.3 L430.2,178.5 L432.6,189.5 Z"/>
<line x1="404.2" y1="201.7" x2="407.9" y2="203.9" stroke-width="5.8"/>
<path stroke="none" d="M405.9,201.7 L404.4,191.9 L402.5,201.6 Z"/>
<path stroke="none" d="M408.4,205.6 L416.4,201.7 L407.5,202.3 Z"/>
<path stroke="none" d="M406.3,203.3 L404.3,213.3 L409.6,204.5 Z"/>
<line x1="327.4" y1="254.9" x2="331.1" y2="247.4" stroke-width="3.9"/>
<line x1="331.1" y1="247.4" x2="336.7" y2="241.8" stroke-width="3.9"/>
<path stroke="none" d="M326.3,255.4 L330.7,261.2 L328.4,254.3 Z"/>
<path stroke="none" d="M332.6,247.2 L329.7,238.2 L329.6,247.6 Z"/>
<path stroke="none" d="M331.2,245.9 L322.1,246.7 L331.0,248.9 Z"/>
<path stroke="none" d="M336.4,242.9 L345.0,243.9 L337.0,240.7 Z"/>
<path stroke="none" d="M336.1,242.7 L342.7,246.0 L337.4,240.8 Z"/>
<line x1="259.9" y1="442.3" x2="267.4" y2="431.1" stroke-width="3.4"/>
<path stroke="none" d="M260.0,441.1 L251.7,441.9 L259.8,443.5 Z"/>
<path stroke="none" d="M259.0,443.0 L265.0,448.9 L260.8,441.6 Z"/>
<line x1="72.5" y1="63.7" x2="83.7" y2="61.9" stroke-width="6.8"/>
<path stroke="none" d="M74.1,64.4 L76.3,54.9 L70.9,63.1 Z"/>
<path stroke="none" d="M74.2,63.6 L71.5,54.2 L70.8,63.9 Z"/>
<path stroke="none" d="M83.8,64.0 L94.0,61.4 L83.6,59.8 Z"/>
<path stroke="none" d="M85.1,63.5 L94.5,52.6 L82.4,60.3 Z"/>
</g>
</g>
<rect x="396.7" y="395.2" width="191.1" height="2.9" fill="#fff" stroke="#555" stroke-width="0.6"/>
<text x="492.5" y="406" font-size="5.5" font-weight="bold" text-anchor="middle" style="fill:#fff;stroke:#444;stroke-width:0.5px;paint-order:stroke">1000 µm</text>
</g>
<text x="1.50" y="28.90" font-size="50" letter-spacing="-0.550" font-weight="bold">a.</text>
<text x="1.81" y="640.50" font-size="47.5" letter-spacing="1.038" font-weight="bold">b.</text>
<text x="1183.50" y="28.90" font-size="50" letter-spacing="-1.100" font-weight="bold">c.</text>
<text x="1113.80" y="640.80" font-size="47.5" letter-spacing="1.250" font-weight="bold">d.</text>
<text x="233.92" y="35.90" font-size="39.7" letter-spacing="0.297">monolayer</text>
<text x="794.72" y="35.90" font-size="39.7" letter-spacing="0.300">spheroid</text>
<text x="172.71" y="522.50" font-size="39.7" letter-spacing="0.305">scale bar = 1 mm</text>
<text x="700.41" y="522.60" font-size="39.7" letter-spacing="0.255">scale bar = 0.4 mm</text>
<line x1="1333.4" y1="75.78" x2="1333.4" y2="410.3" stroke="#000" stroke-width="4"/>
<line x1="1316.7" y1="408.3" x2="1806" y2="408.3" stroke="#000" stroke-width="4"/>
<text x="1297.07" y="419.10" font-size="32" letter-spacing="-1.050">0</text>
<line x1="1316.7" y1="325.67" x2="1333.4" y2="325.67" stroke="#000" stroke-width="4"/>
<text x="1230.07" y="336.47" font-size="32" letter-spacing="-1.050">20000</text>
<line x1="1316.7" y1="243.04" x2="1333.4" y2="243.04" stroke="#000" stroke-width="4"/>
<text x="1230.07" y="253.84" font-size="32" letter-spacing="-1.050">40000</text>
<line x1="1316.7" y1="160.41" x2="1333.4" y2="160.41" stroke="#000" stroke-width="4"/>
<text x="1230.07" y="171.21" font-size="32" letter-spacing="-1.050">60000</text>
<line x1="1316.7" y1="77.78" x2="1333.4" y2="77.78" stroke="#000" stroke-width="4"/>
<text x="1230.07" y="88.58" font-size="32" letter-spacing="-1.050">80000</text>
<line x1="1333.4" y1="408.3" x2="1333.4" y2="424.8" stroke="#000" stroke-width="4"/>
<text x="1324.71" y="454.70" font-size="31.3">0</text>
<line x1="1490.15" y1="408.3" x2="1490.15" y2="424.8" stroke="#000" stroke-width="4"/>
<text x="1481.46" y="454.70" font-size="31.3">2</text>
<line x1="1646.9" y1="408.3" x2="1646.9" y2="424.8" stroke="#000" stroke-width="4"/>
<text x="1638.29" y="454.70" font-size="31.3">4</text>
<line x1="1803.65" y1="408.3" x2="1803.65" y2="424.8" stroke="#000" stroke-width="4"/>
<text x="1794.89" y="454.70" font-size="31.3">6</text>
<text x="1539.85" y="504.30" font-size="34.4" letter-spacing="-2.504">Day</text>
<text x="1207.05" y="381.21" transform="rotate(-90 1207.05 381.21)" font-size="34.4" letter-spacing="-1.553">Luminescence (AU)</text>
<polyline fill="none" stroke="#005493" stroke-width="6" stroke-linecap="round" stroke-linejoin="round" points="1535.61,408.3 1568.53,407.06 1646.9,403.76 1803.65,393.43"/>
<polyline fill="none" stroke="#941100" stroke-width="6" stroke-linecap="round" stroke-linejoin="round" points="1535.61,408.3 1568.53,391.77 1646.9,325.67 1725.28,247.17 1803.65,160.41"/>
<line x1="1875.25" y1="66.7" x2="1917.35" y2="66.7" stroke="#941100" stroke-width="6.3" stroke-linecap="round"/>
<line x1="1875.25" y1="124.2" x2="1917.35" y2="124.2" stroke="#005493" stroke-width="6.3" stroke-linecap="round"/>
<text x="1940.21" y="77.97" font-size="33.9" letter-spacing="-0.602">2D</text>
<text x="1940.54" y="135.47" font-size="33.9" letter-spacing="-0.941">3D</text>
<rect x="245.3" y="949.5" width="76.5" height="128.9" fill="#dfb8b3"/>
<rect x="360.4" y="736" width="76.5" height="342.4" fill="#b2cce0"/>
<line x1="207.3" y1="674.7" x2="207.3" y2="1080.4" stroke="#000" stroke-width="4"/>
<line x1="190.1" y1="1078.4" x2="475.1" y2="1078.4" stroke="#000" stroke-width="4"/>
<text x="166.82" y="1089.20" font-size="31.8" letter-spacing="-0.500">0</text>
<line x1="190.1" y1="977.98" x2="207.3" y2="977.98" stroke="#000" stroke-width="4"/>
<text x="149.51" y="988.78" font-size="31.8" letter-spacing="-0.500">50</text>
<line x1="190.1" y1="877.55" x2="207.3" y2="877.55" stroke="#000" stroke-width="4"/>
<text x="132.37" y="888.35" font-size="31.8" letter-spacing="-0.500">100</text>
<line x1="190.1" y1="777.12" x2="207.3" y2="777.12" stroke="#000" stroke-width="4"/>
<text x="132.37" y="787.92" font-size="31.8" letter-spacing="-0.500">150</text>
<line x1="190.1" y1="676.7" x2="207.3" y2="676.7" stroke="#000" stroke-width="4"/>
<text x="132.37" y="687.50" font-size="31.8" letter-spacing="-0.500">200</text>
<line x1="283.4" y1="1078.4" x2="283.4" y2="1095.7" stroke="#000" stroke-width="4"/>
<text x="263.31" y="1129.60" font-size="31.5" letter-spacing="-0.150">2D</text>
<line x1="398.3" y1="1078.4" x2="398.3" y2="1095.7" stroke="#000" stroke-width="4"/>
<text x="378.37" y="1129.60" font-size="31.5" letter-spacing="-0.150">3D</text>
<text x="78.46" y="1009.58" transform="rotate(-90 78.46 1009.58)" font-size="35.2" letter-spacing="-1.387">erlotinib IC50 (nM)</text>
<line x1="283.5" y1="948.6" x2="283.5" y2="950.5" stroke="#941100" stroke-width="2"/>
<line x1="259.6" y1="948.6" x2="307.7" y2="948.6" stroke="#941100" stroke-width="2"/>
<line x1="259.6" y1="950.5" x2="307.7" y2="950.5" stroke="#941100" stroke-width="2"/>
<rect x="253.7" y="944.5" width="11.8" height="11.8" fill="#941100"/>
<rect x="277.8" y="943.15" width="11.8" height="11.8" fill="#941100"/>
<rect x="301.8" y="943.3" width="11.8" height="11.8" fill="#941100"/>
<line x1="215.5" y1="944.5" x2="474.5" y2="944.5" stroke="#000" stroke-width="4.2" stroke-linecap="round" stroke-dasharray="0 8.05"/>
<line x1="398" y1="722.75" x2="398" y2="748.75" stroke="#005493" stroke-width="2"/>
<line x1="378" y1="722.75" x2="418" y2="722.75" stroke="#005493" stroke-width="2"/>
<line x1="378" y1="748.75" x2="418" y2="748.75" stroke="#005493" stroke-width="2"/>
<circle cx="398.25" cy="722" r="6" fill="#005493"/>
<circle cx="410" cy="737.5" r="6" fill="#005493"/>
<circle cx="385.75" cy="747.5" r="6" fill="#005493"/>
<line x1="272" y1="666.1" x2="393" y2="666.1" stroke="#000" stroke-width="2.2" stroke-linecap="round"/>
<text x="320.75" y="663.60" font-size="28" letter-spacing="0.800">**</text>
<rect x="745.25" y="943" width="83.5" height="133.8" fill="#dfb8b3"/>
<rect x="871" y="748.75" width="83.75" height="328.05" fill="#b2cce0"/>
<line x1="703" y1="673.1" x2="703" y2="1078.8" stroke="#000" stroke-width="4"/>
<line x1="685.8" y1="1076.8" x2="998" y2="1076.8" stroke="#000" stroke-width="4"/>
<text x="662.62" y="1087.60" font-size="31.8" letter-spacing="-0.500">0</text>
<line x1="685.8" y1="976.38" x2="703" y2="976.38" stroke="#000" stroke-width="4"/>
<text x="645.31" y="987.18" font-size="31.8" letter-spacing="-0.500">50</text>
<line x1="685.8" y1="875.95" x2="703" y2="875.95" stroke="#000" stroke-width="4"/>
<text x="628.17" y="886.75" font-size="31.8" letter-spacing="-0.500">100</text>
<line x1="685.8" y1="775.52" x2="703" y2="775.52" stroke="#000" stroke-width="4"/>
<text x="628.17" y="786.32" font-size="31.8" letter-spacing="-0.500">150</text>
<line x1="685.8" y1="675.1" x2="703" y2="675.1" stroke="#000" stroke-width="4"/>
<text x="628.17" y="685.90" font-size="31.8" letter-spacing="-0.500">200</text>
<line x1="786.5" y1="1076.8" x2="786.5" y2="1094.1" stroke="#000" stroke-width="4"/>
<text x="766.41" y="1128.00" font-size="31.5" letter-spacing="-0.150">2D</text>
<line x1="912.5" y1="1076.8" x2="912.5" y2="1094.1" stroke="#000" stroke-width="4"/>
<text x="892.57" y="1128.00" font-size="31.5" letter-spacing="-0.150">3D</text>
<text x="574.46" y="1007.41" transform="rotate(-90 574.46 1007.41)" font-size="35.2" letter-spacing="-1.354">gefitinib IC50 (nM)</text>
<line x1="787.25" y1="934" x2="787.25" y2="951.25" stroke="#941100" stroke-width="2"/>
<line x1="766" y1="934" x2="808.5" y2="934" stroke="#941100" stroke-width="2"/>
<line x1="766" y1="951.25" x2="808.5" y2="951.25" stroke="#941100" stroke-width="2"/>
<rect x="763.0" y="928.0" width="16" height="16" fill="#941100"/>
<rect x="763.0" y="944.4" width="16" height="16" fill="#941100"/>
<rect x="795.0" y="931.6" width="16" height="16" fill="#941100"/>
<line x1="712.6" y1="947" x2="998" y2="947" stroke="#000" stroke-width="4.2" stroke-linecap="round" stroke-dasharray="0 8.05"/>
<line x1="912.75" y1="712.5" x2="912.75" y2="784.75" stroke="#005493" stroke-width="2"/>
<line x1="891" y1="712.5" x2="934.25" y2="712.5" stroke="#005493" stroke-width="2"/>
<line x1="891" y1="784.75" x2="934.25" y2="784.75" stroke="#005493" stroke-width="2"/>
<circle cx="912.75" cy="706.5" r="8" fill="#005493"/>
<circle cx="896.75" cy="770.5" r="8" fill="#005493"/>
<circle cx="928.75" cy="768" r="8" fill="#005493"/>
<line x1="768" y1="664.6" x2="889.5" y2="664.6" stroke="#000" stroke-width="2.2" stroke-linecap="round"/>
<text x="817.10" y="661.80" font-size="28" letter-spacing="0.800">**</text>
<rect x="1273.75" y="777.75" width="71.25" height="301.0" fill="#dfb8b3"/>
<rect x="1381.75" y="704.5" width="71.25" height="374.25" fill="#b2cce0"/>
<line x1="1238.25" y1="679.75" x2="1238.25" y2="1080.75" stroke="#000" stroke-width="4"/>
<line x1="1221.05" y1="1078.75" x2="1489.25" y2="1078.75" stroke="#000" stroke-width="4"/>
<text x="1197.32" y="1089.55" font-size="31.8" letter-spacing="-0.500">0</text>
<line x1="1221.05" y1="964.75" x2="1238.25" y2="964.75" stroke="#000" stroke-width="4"/>
<text x="1145.72" y="975.55" font-size="31.8" letter-spacing="-0.500">2000</text>
<line x1="1221.05" y1="850.75" x2="1238.25" y2="850.75" stroke="#000" stroke-width="4"/>
<text x="1145.72" y="861.55" font-size="31.8" letter-spacing="-0.500">4000</text>
<line x1="1221.05" y1="736.75" x2="1238.25" y2="736.75" stroke="#000" stroke-width="4"/>
<text x="1145.72" y="747.55" font-size="31.8" letter-spacing="-0.500">6000</text>
<line x1="1309.25" y1="1078.75" x2="1309.25" y2="1096.05" stroke="#000" stroke-width="4"/>
<text x="1289.16" y="1129.90" font-size="31.5" letter-spacing="-0.150">2D</text>
<line x1="1417.5" y1="1078.75" x2="1417.5" y2="1096.05" stroke="#000" stroke-width="4"/>
<text x="1397.57" y="1129.90" font-size="31.5" letter-spacing="-0.150">3D</text>
<text x="1128.20" y="1013.38" transform="rotate(-90 1128.20 1013.38)" font-size="35.2" letter-spacing="-1.432">cisplatin IC50 (nM)</text>
<line x1="1309.25" y1="756.75" x2="1309.25" y2="798" stroke="#941100" stroke-width="2"/>
<line x1="1290.5" y1="756.75" x2="1327.5" y2="756.75" stroke="#941100" stroke-width="2"/>
<line x1="1290.5" y1="798" x2="1327.5" y2="798" stroke="#941100" stroke-width="2"/>
<rect x="1301.4" y="746.5" width="16" height="16" fill="#941100"/>
<rect x="1317.4" y="777.25" width="16" height="16" fill="#941100"/>
<rect x="1285.5" y="785.0" width="16" height="16" fill="#941100"/>
<line x1="1246.2" y1="762.75" x2="1489" y2="762.75" stroke="#000" stroke-width="4.2" stroke-linecap="round" stroke-dasharray="0 8.05"/>
<line x1="1416.75" y1="700.25" x2="1416.75" y2="707.25" stroke="#005493" stroke-width="2"/>
<line x1="1398.75" y1="700.25" x2="1435" y2="700.25" stroke="#005493" stroke-width="2"/>
<line x1="1398.75" y1="707.25" x2="1435" y2="707.25" stroke="#005493" stroke-width="2"/>
<circle cx="1389.5" cy="707.25" r="8" fill="#005493"/>
<circle cx="1416.75" cy="701" r="8" fill="#005493"/>
<circle cx="1445" cy="702" r="8" fill="#005493"/>
<line x1="1268.8" y1="665.2" x2="1415" y2="665.2" stroke="#000" stroke-width="2.2" stroke-linecap="round"/>
<text x="1317.23" y="652.90" font-size="28.7" letter-spacing="-0.763" font-style="italic">n.s.</text>
<rect x="1746.25" y="1063.75" width="68.25" height="14.25" fill="#dfb8b3"/>
<rect x="1850.25" y="723.25" width="68.25" height="354.75" fill="#b2cce0"/>
<line x1="1712" y1="676.0" x2="1712" y2="1080.0" stroke="#000" stroke-width="4"/>
<line x1="1694.8" y1="1078.0" x2="1953.25" y2="1078.0" stroke="#000" stroke-width="4"/>
<text x="1671.92" y="1088.80" font-size="31.8" letter-spacing="-0.500">0</text>
<line x1="1694.8" y1="998" x2="1712" y2="998" stroke="#000" stroke-width="4"/>
<text x="1637.47" y="1008.80" font-size="31.8" letter-spacing="-0.500">200</text>
<line x1="1694.8" y1="918" x2="1712" y2="918" stroke="#000" stroke-width="4"/>
<text x="1637.47" y="928.80" font-size="31.8" letter-spacing="-0.500">400</text>
<line x1="1694.8" y1="838" x2="1712" y2="838" stroke="#000" stroke-width="4"/>
<text x="1637.47" y="848.80" font-size="31.8" letter-spacing="-0.500">600</text>
<line x1="1694.8" y1="758" x2="1712" y2="758" stroke="#000" stroke-width="4"/>
<text x="1637.47" y="768.80" font-size="31.8" letter-spacing="-0.500">800</text>
<line x1="1694.8" y1="678" x2="1712" y2="678" stroke="#000" stroke-width="4"/>
<text x="1620.32" y="688.80" font-size="31.8" letter-spacing="-0.500">1000</text>
<line x1="1780.75" y1="1078.0" x2="1780.75" y2="1095.3" stroke="#000" stroke-width="4"/>
<text x="1760.66" y="1129.30" font-size="31.5" letter-spacing="-0.150">2D</text>
<line x1="1884.5" y1="1078.0" x2="1884.5" y2="1095.3" stroke="#000" stroke-width="4"/>
<text x="1864.57" y="1129.30" font-size="31.5" letter-spacing="-0.150">3D</text>
<text x="1583.20" y="1022.91" transform="rotate(-90 1583.20 1022.91)" font-size="35.2" letter-spacing="-1.549">docetaxel IC50 (nM)</text>
<line x1="1780.5" y1="1062" x2="1780.5" y2="1064" stroke="#941100" stroke-width="2"/>
<line x1="1754" y1="1062" x2="1807" y2="1062" stroke="#941100" stroke-width="2"/>
<line x1="1754" y1="1064" x2="1807" y2="1064" stroke="#941100" stroke-width="2"/>
<rect x="1746.1" y="1055.4" width="16" height="16" fill="#941100"/>
<rect x="1772.5" y="1053.6" width="16" height="16" fill="#941100"/>
<rect x="1798.9" y="1055.4" width="16" height="16" fill="#941100"/>
<line x1="1720.35" y1="1058.75" x2="1953" y2="1058.75" stroke="#000" stroke-width="4.2" stroke-linecap="round" stroke-dasharray="0 8.05"/>
<line x1="1884.25" y1="705.75" x2="1884.25" y2="740.25" stroke="#005493" stroke-width="2"/>
<line x1="1867" y1="705.75" x2="1902" y2="705.75" stroke="#005493" stroke-width="2"/>
<line x1="1867" y1="740.25" x2="1902" y2="740.25" stroke="#005493" stroke-width="2"/>
<circle cx="1868.25" cy="709.5" r="8" fill="#005493"/>
<circle cx="1900.25" cy="717.5" r="8" fill="#005493"/>
<circle cx="1884.25" cy="742" r="8" fill="#005493"/>
<line x1="1776.2" y1="668.15" x2="1896.7" y2="668.15" stroke="#000" stroke-width="2.2" stroke-linecap="round"/>
<text x="1818.14" y="663.20" font-size="28" letter-spacing="0.400">***</text>
</svg>
</body>
</html>
